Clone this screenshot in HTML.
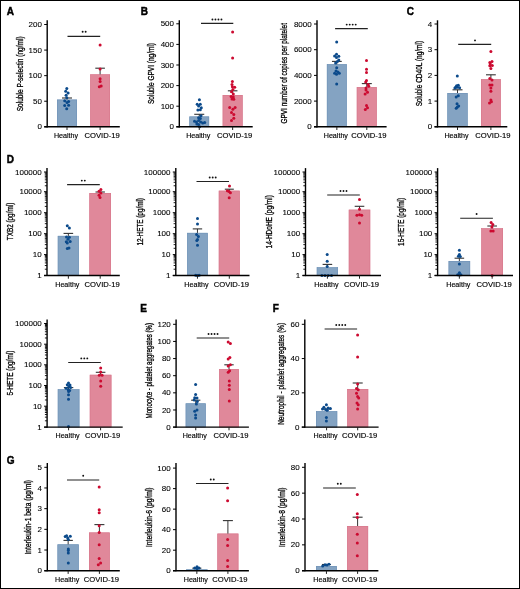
<!DOCTYPE html>
<html><head><meta charset="utf-8"><style>
html,body{margin:0;padding:0;background:#fff;}
body{width:520px;height:589px;overflow:hidden;}
svg{display:block;font-family:"Liberation Sans", sans-serif;will-change:transform;}
</style></head><body>
<svg width="520" height="589" viewBox="0 0 520 589">
<rect x="0" y="0" width="520" height="589" fill="#fff"/>
<rect x="57.00" y="99.60" width="20.00" height="27.20" fill="#84a3c2"/>
<rect x="57.30" y="99.90" width="19.40" height="26.90" fill="none" stroke="#7093b8" stroke-width="0.6"/>
<rect x="90.20" y="74.40" width="19.80" height="52.40" fill="#e0889a"/>
<rect x="90.50" y="74.70" width="19.20" height="52.10" fill="none" stroke="#d8788d" stroke-width="0.6"/>
<line x1="67.00" y1="99.60" x2="67.00" y2="98.00" stroke="#333" stroke-width="1.0"/>
<line x1="62.00" y1="98.00" x2="72.00" y2="98.00" stroke="#333" stroke-width="1.1"/>
<line x1="100.10" y1="74.40" x2="100.10" y2="68.20" stroke="#333" stroke-width="1.0"/>
<line x1="95.30" y1="68.20" x2="104.90" y2="68.20" stroke="#333" stroke-width="1.1"/>
<circle cx="66.80" cy="88.60" r="1.5" fill="#0b4a8b"/>
<circle cx="65.70" cy="91.20" r="1.5" fill="#0b4a8b"/>
<circle cx="68.10" cy="92.90" r="1.5" fill="#0b4a8b"/>
<circle cx="66.10" cy="95.30" r="1.5" fill="#0b4a8b"/>
<circle cx="66.80" cy="97.80" r="1.5" fill="#0b4a8b"/>
<circle cx="64.70" cy="100.80" r="1.5" fill="#0b4a8b"/>
<circle cx="68.60" cy="101.50" r="1.5" fill="#0b4a8b"/>
<circle cx="67.00" cy="102.40" r="1.5" fill="#0b4a8b"/>
<circle cx="64.70" cy="105.50" r="1.5" fill="#0b4a8b"/>
<circle cx="68.60" cy="105.20" r="1.5" fill="#0b4a8b"/>
<circle cx="66.70" cy="108.70" r="1.5" fill="#0b4a8b"/>
<circle cx="100.10" cy="44.90" r="1.5" fill="#cc0a30"/>
<circle cx="100.10" cy="69.10" r="1.5" fill="#cc0a30"/>
<circle cx="100.10" cy="78.80" r="1.5" fill="#cc0a30"/>
<circle cx="100.10" cy="81.50" r="1.5" fill="#cc0a30"/>
<circle cx="99.30" cy="86.80" r="1.5" fill="#cc0a30"/>
<circle cx="101.20" cy="86.10" r="1.5" fill="#cc0a30"/>
<line x1="47.20" y1="20.30" x2="47.20" y2="127.40" stroke="#000" stroke-width="1.4"/>
<line x1="44.20" y1="126.80" x2="119.80" y2="126.80" stroke="#000" stroke-width="1.4"/>
<line x1="44.20" y1="24.50" x2="47.20" y2="24.50" stroke="#000" stroke-width="1.0"/>
<text x="41.90" y="27.10" font-size="7.3" text-anchor="end" fill="#000" stroke="#000" stroke-width="0.08" textLength="13.35" lengthAdjust="spacingAndGlyphs">200</text>
<line x1="44.20" y1="50.08" x2="47.20" y2="50.08" stroke="#000" stroke-width="1.0"/>
<text x="41.90" y="52.68" font-size="7.3" text-anchor="end" fill="#000" stroke="#000" stroke-width="0.08" textLength="13.35" lengthAdjust="spacingAndGlyphs">150</text>
<line x1="44.20" y1="75.65" x2="47.20" y2="75.65" stroke="#000" stroke-width="1.0"/>
<text x="41.90" y="78.25" font-size="7.3" text-anchor="end" fill="#000" stroke="#000" stroke-width="0.08" textLength="13.35" lengthAdjust="spacingAndGlyphs">100</text>
<line x1="44.20" y1="101.22" x2="47.20" y2="101.22" stroke="#000" stroke-width="1.0"/>
<text x="41.90" y="103.82" font-size="7.3" text-anchor="end" fill="#000" stroke="#000" stroke-width="0.08" textLength="8.90" lengthAdjust="spacingAndGlyphs">50</text>
<line x1="44.20" y1="126.80" x2="47.20" y2="126.80" stroke="#000" stroke-width="1.0"/>
<text x="41.90" y="129.40" font-size="7.3" text-anchor="end" fill="#000" stroke="#000" stroke-width="0.08" textLength="4.45" lengthAdjust="spacingAndGlyphs">0</text>
<line x1="67.00" y1="126.80" x2="67.00" y2="130.00" stroke="#222" stroke-width="1.0"/>
<line x1="100.10" y1="126.80" x2="100.10" y2="130.00" stroke="#222" stroke-width="1.0"/>
<text x="66.00" y="138.00" font-size="7.1" text-anchor="middle" font-weight="normal" fill="#000" stroke="#000" stroke-width="0.14" textLength="24.2" lengthAdjust="spacingAndGlyphs">Healthy</text>
<text x="102.10" y="138.00" font-size="7.1" text-anchor="middle" font-weight="normal" fill="#000" stroke="#000" stroke-width="0.14" textLength="35.2" lengthAdjust="spacingAndGlyphs">COVID-19</text>
<line x1="67.50" y1="36.30" x2="100.20" y2="36.30" stroke="#222" stroke-width="1.15"/>
<circle cx="82.65" cy="31.80" r="0.95" fill="#111"/>
<circle cx="85.65" cy="31.80" r="0.95" fill="#111"/>
<text x="0" y="0" font-size="9" text-anchor="middle" fill="#000" stroke="#000" stroke-width="0.3" textLength="75" lengthAdjust="spacingAndGlyphs" transform="translate(23.05,73.80) rotate(-90)">Soluble P-selectin (ng/ml)</text>
<rect x="189.40" y="116.50" width="19.70" height="10.30" fill="#84a3c2"/>
<rect x="189.70" y="116.80" width="19.10" height="10.00" fill="none" stroke="#7093b8" stroke-width="0.6"/>
<rect x="222.70" y="95.00" width="19.90" height="31.80" fill="#e0889a"/>
<rect x="223.00" y="95.30" width="19.30" height="31.50" fill="none" stroke="#d8788d" stroke-width="0.6"/>
<line x1="199.25" y1="116.50" x2="199.25" y2="114.30" stroke="#333" stroke-width="1.0"/>
<line x1="194.25" y1="114.30" x2="204.25" y2="114.30" stroke="#333" stroke-width="1.1"/>
<line x1="232.65" y1="95.00" x2="232.65" y2="90.80" stroke="#333" stroke-width="1.0"/>
<line x1="227.85" y1="90.80" x2="237.45" y2="90.80" stroke="#333" stroke-width="1.1"/>
<circle cx="199.40" cy="99.80" r="1.5" fill="#0b4a8b"/>
<circle cx="197.20" cy="104.30" r="1.5" fill="#0b4a8b"/>
<circle cx="200.30" cy="104.30" r="1.5" fill="#0b4a8b"/>
<circle cx="198.60" cy="106.00" r="1.5" fill="#0b4a8b"/>
<circle cx="201.30" cy="107.80" r="1.5" fill="#0b4a8b"/>
<circle cx="197.90" cy="110.00" r="1.5" fill="#0b4a8b"/>
<circle cx="200.30" cy="109.70" r="1.5" fill="#0b4a8b"/>
<circle cx="201.00" cy="115.70" r="1.5" fill="#0b4a8b"/>
<circle cx="198.60" cy="117.80" r="1.5" fill="#0b4a8b"/>
<circle cx="200.30" cy="118.50" r="1.5" fill="#0b4a8b"/>
<circle cx="194.50" cy="121.20" r="1.5" fill="#0b4a8b"/>
<circle cx="196.50" cy="121.90" r="1.5" fill="#0b4a8b"/>
<circle cx="198.60" cy="120.50" r="1.5" fill="#0b4a8b"/>
<circle cx="200.60" cy="121.90" r="1.5" fill="#0b4a8b"/>
<circle cx="202.70" cy="122.90" r="1.5" fill="#0b4a8b"/>
<circle cx="204.70" cy="122.60" r="1.5" fill="#0b4a8b"/>
<circle cx="198.60" cy="124.60" r="1.5" fill="#0b4a8b"/>
<circle cx="199.60" cy="126.70" r="1.5" fill="#0b4a8b"/>
<circle cx="196.90" cy="123.90" r="1.5" fill="#0b4a8b"/>
<circle cx="232.60" cy="31.90" r="1.5" fill="#cc0a30"/>
<circle cx="232.60" cy="58.00" r="1.5" fill="#cc0a30"/>
<circle cx="232.40" cy="81.50" r="1.5" fill="#cc0a30"/>
<circle cx="232.00" cy="84.50" r="1.5" fill="#cc0a30"/>
<circle cx="234.70" cy="87.20" r="1.5" fill="#cc0a30"/>
<circle cx="232.40" cy="86.70" r="1.5" fill="#cc0a30"/>
<circle cx="232.90" cy="89.40" r="1.5" fill="#cc0a30"/>
<circle cx="231.50" cy="91.70" r="1.5" fill="#cc0a30"/>
<circle cx="233.30" cy="93.90" r="1.5" fill="#cc0a30"/>
<circle cx="231.10" cy="96.60" r="1.5" fill="#cc0a30"/>
<circle cx="233.30" cy="97.10" r="1.5" fill="#cc0a30"/>
<circle cx="232.00" cy="98.90" r="1.5" fill="#cc0a30"/>
<circle cx="233.80" cy="99.30" r="1.5" fill="#cc0a30"/>
<circle cx="229.70" cy="107.40" r="1.5" fill="#cc0a30"/>
<circle cx="235.10" cy="107.40" r="1.5" fill="#cc0a30"/>
<circle cx="232.90" cy="109.20" r="1.5" fill="#cc0a30"/>
<circle cx="231.50" cy="112.40" r="1.5" fill="#cc0a30"/>
<circle cx="233.80" cy="114.60" r="1.5" fill="#cc0a30"/>
<circle cx="233.80" cy="118.20" r="1.5" fill="#cc0a30"/>
<circle cx="231.50" cy="120.50" r="1.5" fill="#cc0a30"/>
<line x1="179.30" y1="20.30" x2="179.30" y2="127.40" stroke="#000" stroke-width="1.4"/>
<line x1="176.30" y1="126.80" x2="252.70" y2="126.80" stroke="#000" stroke-width="1.4"/>
<line x1="176.30" y1="23.80" x2="179.30" y2="23.80" stroke="#000" stroke-width="1.0"/>
<text x="174.00" y="26.40" font-size="7.3" text-anchor="end" fill="#000" stroke="#000" stroke-width="0.08" textLength="13.35" lengthAdjust="spacingAndGlyphs">500</text>
<line x1="176.30" y1="44.40" x2="179.30" y2="44.40" stroke="#000" stroke-width="1.0"/>
<text x="174.00" y="47.00" font-size="7.3" text-anchor="end" fill="#000" stroke="#000" stroke-width="0.08" textLength="13.35" lengthAdjust="spacingAndGlyphs">400</text>
<line x1="176.30" y1="65.00" x2="179.30" y2="65.00" stroke="#000" stroke-width="1.0"/>
<text x="174.00" y="67.60" font-size="7.3" text-anchor="end" fill="#000" stroke="#000" stroke-width="0.08" textLength="13.35" lengthAdjust="spacingAndGlyphs">300</text>
<line x1="176.30" y1="85.60" x2="179.30" y2="85.60" stroke="#000" stroke-width="1.0"/>
<text x="174.00" y="88.20" font-size="7.3" text-anchor="end" fill="#000" stroke="#000" stroke-width="0.08" textLength="13.35" lengthAdjust="spacingAndGlyphs">200</text>
<line x1="176.30" y1="106.20" x2="179.30" y2="106.20" stroke="#000" stroke-width="1.0"/>
<text x="174.00" y="108.80" font-size="7.3" text-anchor="end" fill="#000" stroke="#000" stroke-width="0.08" textLength="13.35" lengthAdjust="spacingAndGlyphs">100</text>
<line x1="176.30" y1="126.80" x2="179.30" y2="126.80" stroke="#000" stroke-width="1.0"/>
<text x="174.00" y="129.40" font-size="7.3" text-anchor="end" fill="#000" stroke="#000" stroke-width="0.08" textLength="4.45" lengthAdjust="spacingAndGlyphs">0</text>
<line x1="199.25" y1="126.80" x2="199.25" y2="130.00" stroke="#222" stroke-width="1.0"/>
<line x1="232.65" y1="126.80" x2="232.65" y2="130.00" stroke="#222" stroke-width="1.0"/>
<text x="198.25" y="138.00" font-size="7.1" text-anchor="middle" font-weight="normal" fill="#000" stroke="#000" stroke-width="0.14" textLength="24.2" lengthAdjust="spacingAndGlyphs">Healthy</text>
<text x="234.65" y="138.00" font-size="7.1" text-anchor="middle" font-weight="normal" fill="#000" stroke="#000" stroke-width="0.14" textLength="35.2" lengthAdjust="spacingAndGlyphs">COVID-19</text>
<line x1="201.00" y1="23.40" x2="233.30" y2="23.40" stroke="#222" stroke-width="1.15"/>
<circle cx="212.45" cy="19.50" r="0.95" fill="#111"/>
<circle cx="215.45" cy="19.50" r="0.95" fill="#111"/>
<circle cx="218.45" cy="19.50" r="0.95" fill="#111"/>
<circle cx="221.45" cy="19.50" r="0.95" fill="#111"/>
<text x="0" y="0" font-size="9" text-anchor="middle" fill="#000" stroke="#000" stroke-width="0.3" textLength="61" lengthAdjust="spacingAndGlyphs" transform="translate(154.20,73.50) rotate(-90)">Soluble GPVI (ng/ml)</text>
<rect x="326.90" y="64.20" width="19.90" height="62.60" fill="#84a3c2"/>
<rect x="327.20" y="64.50" width="19.30" height="62.30" fill="none" stroke="#7093b8" stroke-width="0.6"/>
<rect x="356.80" y="87.10" width="20.00" height="39.70" fill="#e0889a"/>
<rect x="357.10" y="87.40" width="19.40" height="39.40" fill="none" stroke="#d8788d" stroke-width="0.6"/>
<line x1="336.85" y1="64.20" x2="336.85" y2="61.40" stroke="#333" stroke-width="1.0"/>
<line x1="331.95" y1="61.40" x2="341.75" y2="61.40" stroke="#333" stroke-width="1.1"/>
<line x1="366.80" y1="87.10" x2="366.80" y2="83.60" stroke="#333" stroke-width="1.0"/>
<line x1="361.80" y1="83.60" x2="371.80" y2="83.60" stroke="#333" stroke-width="1.1"/>
<circle cx="336.70" cy="42.00" r="1.5" fill="#0b4a8b"/>
<circle cx="336.50" cy="54.20" r="1.5" fill="#0b4a8b"/>
<circle cx="334.60" cy="56.00" r="1.5" fill="#0b4a8b"/>
<circle cx="338.80" cy="56.30" r="1.5" fill="#0b4a8b"/>
<circle cx="336.50" cy="57.40" r="1.5" fill="#0b4a8b"/>
<circle cx="338.80" cy="60.00" r="1.5" fill="#0b4a8b"/>
<circle cx="337.40" cy="61.60" r="1.5" fill="#0b4a8b"/>
<circle cx="335.60" cy="63.00" r="1.5" fill="#0b4a8b"/>
<circle cx="336.70" cy="67.70" r="1.5" fill="#0b4a8b"/>
<circle cx="336.00" cy="71.00" r="1.5" fill="#0b4a8b"/>
<circle cx="337.90" cy="71.90" r="1.5" fill="#0b4a8b"/>
<circle cx="334.60" cy="73.30" r="1.5" fill="#0b4a8b"/>
<circle cx="339.30" cy="73.30" r="1.5" fill="#0b4a8b"/>
<circle cx="336.50" cy="74.30" r="1.5" fill="#0b4a8b"/>
<circle cx="336.70" cy="84.10" r="1.5" fill="#0b4a8b"/>
<circle cx="366.50" cy="60.50" r="1.5" fill="#cc0a30"/>
<circle cx="366.50" cy="69.30" r="1.5" fill="#cc0a30"/>
<circle cx="366.50" cy="72.60" r="1.5" fill="#cc0a30"/>
<circle cx="366.50" cy="80.40" r="1.5" fill="#cc0a30"/>
<circle cx="365.70" cy="82.10" r="1.5" fill="#cc0a30"/>
<circle cx="368.10" cy="84.50" r="1.5" fill="#cc0a30"/>
<circle cx="368.70" cy="86.30" r="1.5" fill="#cc0a30"/>
<circle cx="366.00" cy="87.90" r="1.5" fill="#cc0a30"/>
<circle cx="366.00" cy="89.90" r="1.5" fill="#cc0a30"/>
<circle cx="367.50" cy="92.30" r="1.5" fill="#cc0a30"/>
<circle cx="365.10" cy="94.00" r="1.5" fill="#cc0a30"/>
<circle cx="366.50" cy="105.40" r="1.5" fill="#cc0a30"/>
<circle cx="367.50" cy="107.70" r="1.5" fill="#cc0a30"/>
<circle cx="365.30" cy="109.50" r="1.5" fill="#cc0a30"/>
<line x1="317.00" y1="20.30" x2="317.00" y2="127.40" stroke="#000" stroke-width="1.4"/>
<line x1="314.00" y1="126.80" x2="386.60" y2="126.80" stroke="#000" stroke-width="1.4"/>
<line x1="314.00" y1="24.00" x2="317.00" y2="24.00" stroke="#000" stroke-width="1.0"/>
<text x="311.70" y="26.60" font-size="7.3" text-anchor="end" fill="#000" stroke="#000" stroke-width="0.08" textLength="17.80" lengthAdjust="spacingAndGlyphs">8000</text>
<line x1="314.00" y1="49.70" x2="317.00" y2="49.70" stroke="#000" stroke-width="1.0"/>
<text x="311.70" y="52.30" font-size="7.3" text-anchor="end" fill="#000" stroke="#000" stroke-width="0.08" textLength="17.80" lengthAdjust="spacingAndGlyphs">6000</text>
<line x1="314.00" y1="75.40" x2="317.00" y2="75.40" stroke="#000" stroke-width="1.0"/>
<text x="311.70" y="78.00" font-size="7.3" text-anchor="end" fill="#000" stroke="#000" stroke-width="0.08" textLength="17.80" lengthAdjust="spacingAndGlyphs">4000</text>
<line x1="314.00" y1="101.10" x2="317.00" y2="101.10" stroke="#000" stroke-width="1.0"/>
<text x="311.70" y="103.70" font-size="7.3" text-anchor="end" fill="#000" stroke="#000" stroke-width="0.08" textLength="17.80" lengthAdjust="spacingAndGlyphs">2000</text>
<line x1="314.00" y1="126.80" x2="317.00" y2="126.80" stroke="#000" stroke-width="1.0"/>
<text x="311.70" y="129.40" font-size="7.3" text-anchor="end" fill="#000" stroke="#000" stroke-width="0.08" textLength="4.45" lengthAdjust="spacingAndGlyphs">0</text>
<line x1="336.85" y1="126.80" x2="336.85" y2="130.00" stroke="#222" stroke-width="1.0"/>
<line x1="366.80" y1="126.80" x2="366.80" y2="130.00" stroke="#222" stroke-width="1.0"/>
<text x="335.85" y="138.00" font-size="7.1" text-anchor="middle" font-weight="normal" fill="#000" stroke="#000" stroke-width="0.14" textLength="24.2" lengthAdjust="spacingAndGlyphs">Healthy</text>
<text x="368.80" y="138.00" font-size="7.1" text-anchor="middle" font-weight="normal" fill="#000" stroke="#000" stroke-width="0.14" textLength="35.2" lengthAdjust="spacingAndGlyphs">COVID-19</text>
<line x1="335.10" y1="28.60" x2="367.80" y2="28.60" stroke="#222" stroke-width="1.15"/>
<circle cx="346.70" cy="24.60" r="0.95" fill="#111"/>
<circle cx="349.70" cy="24.60" r="0.95" fill="#111"/>
<circle cx="352.70" cy="24.60" r="0.95" fill="#111"/>
<circle cx="355.70" cy="24.60" r="0.95" fill="#111"/>
<text x="0" y="0" font-size="9" text-anchor="middle" fill="#000" stroke="#000" stroke-width="0.3" textLength="100.5" lengthAdjust="spacingAndGlyphs" transform="translate(287.40,73.30) rotate(-90)">GPVI number of copies per platelet</text>
<rect x="447.40" y="93.00" width="20.20" height="33.80" fill="#84a3c2"/>
<rect x="447.70" y="93.30" width="19.60" height="33.50" fill="none" stroke="#7093b8" stroke-width="0.6"/>
<rect x="481.00" y="79.20" width="19.80" height="47.60" fill="#e0889a"/>
<rect x="481.30" y="79.50" width="19.20" height="47.30" fill="none" stroke="#d8788d" stroke-width="0.6"/>
<line x1="457.50" y1="93.00" x2="457.50" y2="89.80" stroke="#333" stroke-width="1.0"/>
<line x1="452.50" y1="89.80" x2="462.50" y2="89.80" stroke="#333" stroke-width="1.1"/>
<line x1="490.90" y1="79.20" x2="490.90" y2="74.80" stroke="#333" stroke-width="1.0"/>
<line x1="486.00" y1="74.80" x2="495.80" y2="74.80" stroke="#333" stroke-width="1.1"/>
<circle cx="457.30" cy="75.90" r="1.5" fill="#0b4a8b"/>
<circle cx="458.30" cy="85.20" r="1.5" fill="#0b4a8b"/>
<circle cx="456.60" cy="85.80" r="1.5" fill="#0b4a8b"/>
<circle cx="455.70" cy="87.30" r="1.5" fill="#0b4a8b"/>
<circle cx="457.40" cy="87.30" r="1.5" fill="#0b4a8b"/>
<circle cx="459.60" cy="87.80" r="1.5" fill="#0b4a8b"/>
<circle cx="454.90" cy="88.10" r="1.5" fill="#0b4a8b"/>
<circle cx="456.20" cy="96.90" r="1.5" fill="#0b4a8b"/>
<circle cx="458.30" cy="95.80" r="1.5" fill="#0b4a8b"/>
<circle cx="457.00" cy="103.70" r="1.5" fill="#0b4a8b"/>
<circle cx="458.70" cy="106.00" r="1.5" fill="#0b4a8b"/>
<circle cx="457.40" cy="107.10" r="1.5" fill="#0b4a8b"/>
<circle cx="456.20" cy="108.30" r="1.5" fill="#0b4a8b"/>
<circle cx="490.90" cy="51.40" r="1.5" fill="#cc0a30"/>
<circle cx="492.00" cy="61.50" r="1.5" fill="#cc0a30"/>
<circle cx="489.80" cy="62.40" r="1.5" fill="#cc0a30"/>
<circle cx="490.30" cy="64.00" r="1.5" fill="#cc0a30"/>
<circle cx="492.30" cy="65.40" r="1.5" fill="#cc0a30"/>
<circle cx="489.80" cy="65.70" r="1.5" fill="#cc0a30"/>
<circle cx="490.90" cy="68.40" r="1.5" fill="#cc0a30"/>
<circle cx="489.80" cy="78.60" r="1.5" fill="#cc0a30"/>
<circle cx="492.00" cy="80.10" r="1.5" fill="#cc0a30"/>
<circle cx="489.80" cy="84.90" r="1.5" fill="#cc0a30"/>
<circle cx="492.00" cy="84.90" r="1.5" fill="#cc0a30"/>
<circle cx="490.90" cy="88.00" r="1.5" fill="#cc0a30"/>
<circle cx="490.90" cy="91.30" r="1.5" fill="#cc0a30"/>
<circle cx="490.90" cy="100.10" r="1.5" fill="#cc0a30"/>
<circle cx="491.40" cy="101.80" r="1.5" fill="#cc0a30"/>
<circle cx="489.50" cy="102.90" r="1.5" fill="#cc0a30"/>
<line x1="437.50" y1="20.30" x2="437.50" y2="127.40" stroke="#000" stroke-width="1.4"/>
<line x1="434.50" y1="126.80" x2="507.30" y2="126.80" stroke="#000" stroke-width="1.4"/>
<line x1="434.50" y1="24.00" x2="437.50" y2="24.00" stroke="#000" stroke-width="1.0"/>
<text x="432.20" y="26.60" font-size="7.3" text-anchor="end" fill="#000" stroke="#000" stroke-width="0.08" textLength="4.45" lengthAdjust="spacingAndGlyphs">4</text>
<line x1="434.50" y1="49.70" x2="437.50" y2="49.70" stroke="#000" stroke-width="1.0"/>
<text x="432.20" y="52.30" font-size="7.3" text-anchor="end" fill="#000" stroke="#000" stroke-width="0.08" textLength="4.45" lengthAdjust="spacingAndGlyphs">3</text>
<line x1="434.50" y1="75.40" x2="437.50" y2="75.40" stroke="#000" stroke-width="1.0"/>
<text x="432.20" y="78.00" font-size="7.3" text-anchor="end" fill="#000" stroke="#000" stroke-width="0.08" textLength="4.45" lengthAdjust="spacingAndGlyphs">2</text>
<line x1="434.50" y1="101.10" x2="437.50" y2="101.10" stroke="#000" stroke-width="1.0"/>
<text x="432.20" y="103.70" font-size="7.3" text-anchor="end" fill="#000" stroke="#000" stroke-width="0.08" textLength="4.45" lengthAdjust="spacingAndGlyphs">1</text>
<line x1="434.50" y1="126.80" x2="437.50" y2="126.80" stroke="#000" stroke-width="1.0"/>
<text x="432.20" y="129.40" font-size="7.3" text-anchor="end" fill="#000" stroke="#000" stroke-width="0.08" textLength="4.45" lengthAdjust="spacingAndGlyphs">0</text>
<line x1="457.50" y1="126.80" x2="457.50" y2="130.00" stroke="#222" stroke-width="1.0"/>
<line x1="490.90" y1="126.80" x2="490.90" y2="130.00" stroke="#222" stroke-width="1.0"/>
<text x="456.50" y="138.00" font-size="7.1" text-anchor="middle" font-weight="normal" fill="#000" stroke="#000" stroke-width="0.14" textLength="24.2" lengthAdjust="spacingAndGlyphs">Healthy</text>
<text x="492.90" y="138.00" font-size="7.1" text-anchor="middle" font-weight="normal" fill="#000" stroke="#000" stroke-width="0.14" textLength="35.2" lengthAdjust="spacingAndGlyphs">COVID-19</text>
<line x1="458.20" y1="44.30" x2="491.20" y2="44.30" stroke="#222" stroke-width="1.15"/>
<circle cx="475.00" cy="40.40" r="0.95" fill="#111"/>
<text x="0" y="0" font-size="9" text-anchor="middle" fill="#000" stroke="#000" stroke-width="0.3" textLength="65.5" lengthAdjust="spacingAndGlyphs" transform="translate(421.80,73.60) rotate(-90)">Soluble CD40L (ng/ml)</text>
<rect x="57.80" y="235.90" width="21.10" height="39.60" fill="#84a3c2"/>
<rect x="58.10" y="236.20" width="20.50" height="39.30" fill="none" stroke="#7093b8" stroke-width="0.6"/>
<rect x="89.40" y="193.00" width="21.60" height="82.50" fill="#e0889a"/>
<rect x="89.70" y="193.30" width="21.00" height="82.20" fill="none" stroke="#d8788d" stroke-width="0.6"/>
<line x1="68.35" y1="235.90" x2="68.35" y2="233.40" stroke="#333" stroke-width="1.0"/>
<line x1="63.55" y1="233.40" x2="73.15" y2="233.40" stroke="#333" stroke-width="1.1"/>
<line x1="100.20" y1="193.00" x2="100.20" y2="192.00" stroke="#333" stroke-width="1.0"/>
<line x1="95.50" y1="192.00" x2="104.90" y2="192.00" stroke="#333" stroke-width="1.1"/>
<circle cx="67.30" cy="225.80" r="1.5" fill="#0b4a8b"/>
<circle cx="69.40" cy="228.10" r="1.5" fill="#0b4a8b"/>
<circle cx="66.50" cy="237.00" r="1.5" fill="#0b4a8b"/>
<circle cx="69.40" cy="237.30" r="1.5" fill="#0b4a8b"/>
<circle cx="68.00" cy="239.20" r="1.5" fill="#0b4a8b"/>
<circle cx="66.30" cy="241.70" r="1.5" fill="#0b4a8b"/>
<circle cx="70.20" cy="241.40" r="1.5" fill="#0b4a8b"/>
<circle cx="67.30" cy="243.10" r="1.5" fill="#0b4a8b"/>
<circle cx="67.30" cy="248.60" r="1.5" fill="#0b4a8b"/>
<circle cx="69.00" cy="247.90" r="1.5" fill="#0b4a8b"/>
<circle cx="100.90" cy="189.40" r="1.5" fill="#cc0a30"/>
<circle cx="99.00" cy="191.20" r="1.5" fill="#cc0a30"/>
<circle cx="100.90" cy="193.00" r="1.5" fill="#cc0a30"/>
<circle cx="99.00" cy="195.20" r="1.5" fill="#cc0a30"/>
<circle cx="100.00" cy="197.40" r="1.5" fill="#cc0a30"/>
<line x1="47.00" y1="168.10" x2="47.00" y2="276.10" stroke="#000" stroke-width="1.4"/>
<line x1="44.00" y1="275.50" x2="119.80" y2="275.50" stroke="#000" stroke-width="1.4"/>
<line x1="44.00" y1="172.00" x2="47.00" y2="172.00" stroke="#000" stroke-width="1.0"/>
<text x="41.70" y="174.60" font-size="7.3" text-anchor="end" fill="#000" stroke="#000" stroke-width="0.08" textLength="26.70" lengthAdjust="spacingAndGlyphs">100000</text>
<line x1="44.00" y1="191.70" x2="47.00" y2="191.70" stroke="#000" stroke-width="1.0"/>
<text x="41.70" y="194.30" font-size="7.3" text-anchor="end" fill="#000" stroke="#000" stroke-width="0.08" textLength="22.25" lengthAdjust="spacingAndGlyphs">10000</text>
<line x1="44.00" y1="212.70" x2="47.00" y2="212.70" stroke="#000" stroke-width="1.0"/>
<text x="41.70" y="215.30" font-size="7.3" text-anchor="end" fill="#000" stroke="#000" stroke-width="0.08" textLength="17.80" lengthAdjust="spacingAndGlyphs">1000</text>
<line x1="44.00" y1="233.70" x2="47.00" y2="233.70" stroke="#000" stroke-width="1.0"/>
<text x="41.70" y="236.30" font-size="7.3" text-anchor="end" fill="#000" stroke="#000" stroke-width="0.08" textLength="13.35" lengthAdjust="spacingAndGlyphs">100</text>
<line x1="44.00" y1="254.60" x2="47.00" y2="254.60" stroke="#000" stroke-width="1.0"/>
<text x="41.70" y="257.20" font-size="7.3" text-anchor="end" fill="#000" stroke="#000" stroke-width="0.08" textLength="8.90" lengthAdjust="spacingAndGlyphs">10</text>
<line x1="44.00" y1="275.50" x2="47.00" y2="275.50" stroke="#000" stroke-width="1.0"/>
<text x="41.70" y="278.10" font-size="7.3" text-anchor="end" fill="#000" stroke="#000" stroke-width="0.08" textLength="4.45" lengthAdjust="spacingAndGlyphs">1</text>
<line x1="44.80" y1="185.77" x2="47.00" y2="185.77" stroke="#000" stroke-width="0.9"/>
<line x1="44.80" y1="182.30" x2="47.00" y2="182.30" stroke="#000" stroke-width="0.9"/>
<line x1="44.80" y1="179.84" x2="47.00" y2="179.84" stroke="#000" stroke-width="0.9"/>
<line x1="44.80" y1="177.93" x2="47.00" y2="177.93" stroke="#000" stroke-width="0.9"/>
<line x1="44.80" y1="176.37" x2="47.00" y2="176.37" stroke="#000" stroke-width="0.9"/>
<line x1="44.80" y1="175.05" x2="47.00" y2="175.05" stroke="#000" stroke-width="0.9"/>
<line x1="44.80" y1="173.91" x2="47.00" y2="173.91" stroke="#000" stroke-width="0.9"/>
<line x1="44.80" y1="172.90" x2="47.00" y2="172.90" stroke="#000" stroke-width="0.9"/>
<line x1="44.80" y1="206.38" x2="47.00" y2="206.38" stroke="#000" stroke-width="0.9"/>
<line x1="44.80" y1="202.68" x2="47.00" y2="202.68" stroke="#000" stroke-width="0.9"/>
<line x1="44.80" y1="200.06" x2="47.00" y2="200.06" stroke="#000" stroke-width="0.9"/>
<line x1="44.80" y1="198.02" x2="47.00" y2="198.02" stroke="#000" stroke-width="0.9"/>
<line x1="44.80" y1="196.36" x2="47.00" y2="196.36" stroke="#000" stroke-width="0.9"/>
<line x1="44.80" y1="194.95" x2="47.00" y2="194.95" stroke="#000" stroke-width="0.9"/>
<line x1="44.80" y1="193.74" x2="47.00" y2="193.74" stroke="#000" stroke-width="0.9"/>
<line x1="44.80" y1="192.66" x2="47.00" y2="192.66" stroke="#000" stroke-width="0.9"/>
<line x1="44.80" y1="227.38" x2="47.00" y2="227.38" stroke="#000" stroke-width="0.9"/>
<line x1="44.80" y1="223.68" x2="47.00" y2="223.68" stroke="#000" stroke-width="0.9"/>
<line x1="44.80" y1="221.06" x2="47.00" y2="221.06" stroke="#000" stroke-width="0.9"/>
<line x1="44.80" y1="219.02" x2="47.00" y2="219.02" stroke="#000" stroke-width="0.9"/>
<line x1="44.80" y1="217.36" x2="47.00" y2="217.36" stroke="#000" stroke-width="0.9"/>
<line x1="44.80" y1="215.95" x2="47.00" y2="215.95" stroke="#000" stroke-width="0.9"/>
<line x1="44.80" y1="214.74" x2="47.00" y2="214.74" stroke="#000" stroke-width="0.9"/>
<line x1="44.80" y1="213.66" x2="47.00" y2="213.66" stroke="#000" stroke-width="0.9"/>
<line x1="44.80" y1="248.31" x2="47.00" y2="248.31" stroke="#000" stroke-width="0.9"/>
<line x1="44.80" y1="244.63" x2="47.00" y2="244.63" stroke="#000" stroke-width="0.9"/>
<line x1="44.80" y1="242.02" x2="47.00" y2="242.02" stroke="#000" stroke-width="0.9"/>
<line x1="44.80" y1="239.99" x2="47.00" y2="239.99" stroke="#000" stroke-width="0.9"/>
<line x1="44.80" y1="238.34" x2="47.00" y2="238.34" stroke="#000" stroke-width="0.9"/>
<line x1="44.80" y1="236.94" x2="47.00" y2="236.94" stroke="#000" stroke-width="0.9"/>
<line x1="44.80" y1="235.73" x2="47.00" y2="235.73" stroke="#000" stroke-width="0.9"/>
<line x1="44.80" y1="234.66" x2="47.00" y2="234.66" stroke="#000" stroke-width="0.9"/>
<line x1="44.80" y1="269.21" x2="47.00" y2="269.21" stroke="#000" stroke-width="0.9"/>
<line x1="44.80" y1="265.53" x2="47.00" y2="265.53" stroke="#000" stroke-width="0.9"/>
<line x1="44.80" y1="262.92" x2="47.00" y2="262.92" stroke="#000" stroke-width="0.9"/>
<line x1="44.80" y1="260.89" x2="47.00" y2="260.89" stroke="#000" stroke-width="0.9"/>
<line x1="44.80" y1="259.24" x2="47.00" y2="259.24" stroke="#000" stroke-width="0.9"/>
<line x1="44.80" y1="257.84" x2="47.00" y2="257.84" stroke="#000" stroke-width="0.9"/>
<line x1="44.80" y1="256.63" x2="47.00" y2="256.63" stroke="#000" stroke-width="0.9"/>
<line x1="44.80" y1="255.56" x2="47.00" y2="255.56" stroke="#000" stroke-width="0.9"/>
<line x1="68.35" y1="275.50" x2="68.35" y2="278.70" stroke="#222" stroke-width="1.0"/>
<line x1="100.20" y1="275.50" x2="100.20" y2="278.70" stroke="#222" stroke-width="1.0"/>
<text x="67.35" y="286.70" font-size="7.1" text-anchor="middle" font-weight="normal" fill="#000" stroke="#000" stroke-width="0.14" textLength="24.2" lengthAdjust="spacingAndGlyphs">Healthy</text>
<text x="102.20" y="286.70" font-size="7.1" text-anchor="middle" font-weight="normal" fill="#000" stroke="#000" stroke-width="0.14" textLength="35.2" lengthAdjust="spacingAndGlyphs">COVID-19</text>
<line x1="67.10" y1="184.60" x2="99.80" y2="184.60" stroke="#222" stroke-width="1.15"/>
<circle cx="81.80" cy="180.60" r="0.95" fill="#111"/>
<circle cx="84.80" cy="180.60" r="0.95" fill="#111"/>
<text x="0" y="0" font-size="9" text-anchor="middle" fill="#000" stroke="#000" stroke-width="0.3" textLength="37.5" lengthAdjust="spacingAndGlyphs" transform="translate(12.80,221.50) rotate(-90)">TXB2 (pg/ml)</text>
<rect x="187.10" y="232.90" width="20.70" height="42.60" fill="#84a3c2"/>
<rect x="187.40" y="233.20" width="20.10" height="42.30" fill="none" stroke="#7093b8" stroke-width="0.6"/>
<rect x="218.80" y="190.70" width="21.00" height="84.80" fill="#e0889a"/>
<rect x="219.10" y="191.00" width="20.40" height="84.50" fill="none" stroke="#d8788d" stroke-width="0.6"/>
<line x1="197.45" y1="232.90" x2="197.45" y2="228.90" stroke="#333" stroke-width="1.0"/>
<line x1="192.75" y1="228.90" x2="202.15" y2="228.90" stroke="#333" stroke-width="1.1"/>
<line x1="229.30" y1="190.70" x2="229.30" y2="189.20" stroke="#333" stroke-width="1.0"/>
<line x1="224.80" y1="189.20" x2="233.80" y2="189.20" stroke="#333" stroke-width="1.1"/>
<circle cx="197.50" cy="218.60" r="1.5" fill="#0b4a8b"/>
<circle cx="197.50" cy="224.00" r="1.5" fill="#0b4a8b"/>
<circle cx="196.60" cy="234.60" r="1.5" fill="#0b4a8b"/>
<circle cx="198.40" cy="236.40" r="1.5" fill="#0b4a8b"/>
<circle cx="197.50" cy="239.40" r="1.5" fill="#0b4a8b"/>
<circle cx="196.80" cy="240.50" r="1.5" fill="#0b4a8b"/>
<circle cx="197.50" cy="245.30" r="1.5" fill="#0b4a8b"/>
<circle cx="195.70" cy="275.20" r="1.5" fill="#0b4a8b"/>
<circle cx="197.50" cy="275.60" r="1.5" fill="#0b4a8b"/>
<circle cx="199.20" cy="275.20" r="1.5" fill="#0b4a8b"/>
<circle cx="229.50" cy="186.00" r="1.5" fill="#cc0a30"/>
<circle cx="227.40" cy="190.70" r="1.5" fill="#cc0a30"/>
<circle cx="230.40" cy="192.80" r="1.5" fill="#cc0a30"/>
<circle cx="229.00" cy="191.50" r="1.5" fill="#cc0a30"/>
<circle cx="229.20" cy="197.80" r="1.5" fill="#cc0a30"/>
<line x1="175.80" y1="168.10" x2="175.80" y2="276.10" stroke="#000" stroke-width="1.4"/>
<line x1="172.80" y1="275.50" x2="249.50" y2="275.50" stroke="#000" stroke-width="1.4"/>
<line x1="172.80" y1="172.00" x2="175.80" y2="172.00" stroke="#000" stroke-width="1.0"/>
<text x="170.50" y="174.60" font-size="7.3" text-anchor="end" fill="#000" stroke="#000" stroke-width="0.08" textLength="26.70" lengthAdjust="spacingAndGlyphs">100000</text>
<line x1="172.80" y1="191.70" x2="175.80" y2="191.70" stroke="#000" stroke-width="1.0"/>
<text x="170.50" y="194.30" font-size="7.3" text-anchor="end" fill="#000" stroke="#000" stroke-width="0.08" textLength="22.25" lengthAdjust="spacingAndGlyphs">10000</text>
<line x1="172.80" y1="212.70" x2="175.80" y2="212.70" stroke="#000" stroke-width="1.0"/>
<text x="170.50" y="215.30" font-size="7.3" text-anchor="end" fill="#000" stroke="#000" stroke-width="0.08" textLength="17.80" lengthAdjust="spacingAndGlyphs">1000</text>
<line x1="172.80" y1="233.70" x2="175.80" y2="233.70" stroke="#000" stroke-width="1.0"/>
<text x="170.50" y="236.30" font-size="7.3" text-anchor="end" fill="#000" stroke="#000" stroke-width="0.08" textLength="13.35" lengthAdjust="spacingAndGlyphs">100</text>
<line x1="172.80" y1="254.60" x2="175.80" y2="254.60" stroke="#000" stroke-width="1.0"/>
<text x="170.50" y="257.20" font-size="7.3" text-anchor="end" fill="#000" stroke="#000" stroke-width="0.08" textLength="8.90" lengthAdjust="spacingAndGlyphs">10</text>
<line x1="172.80" y1="275.50" x2="175.80" y2="275.50" stroke="#000" stroke-width="1.0"/>
<text x="170.50" y="278.10" font-size="7.3" text-anchor="end" fill="#000" stroke="#000" stroke-width="0.08" textLength="4.45" lengthAdjust="spacingAndGlyphs">1</text>
<line x1="173.60" y1="185.77" x2="175.80" y2="185.77" stroke="#000" stroke-width="0.9"/>
<line x1="173.60" y1="182.30" x2="175.80" y2="182.30" stroke="#000" stroke-width="0.9"/>
<line x1="173.60" y1="179.84" x2="175.80" y2="179.84" stroke="#000" stroke-width="0.9"/>
<line x1="173.60" y1="177.93" x2="175.80" y2="177.93" stroke="#000" stroke-width="0.9"/>
<line x1="173.60" y1="176.37" x2="175.80" y2="176.37" stroke="#000" stroke-width="0.9"/>
<line x1="173.60" y1="175.05" x2="175.80" y2="175.05" stroke="#000" stroke-width="0.9"/>
<line x1="173.60" y1="173.91" x2="175.80" y2="173.91" stroke="#000" stroke-width="0.9"/>
<line x1="173.60" y1="172.90" x2="175.80" y2="172.90" stroke="#000" stroke-width="0.9"/>
<line x1="173.60" y1="206.38" x2="175.80" y2="206.38" stroke="#000" stroke-width="0.9"/>
<line x1="173.60" y1="202.68" x2="175.80" y2="202.68" stroke="#000" stroke-width="0.9"/>
<line x1="173.60" y1="200.06" x2="175.80" y2="200.06" stroke="#000" stroke-width="0.9"/>
<line x1="173.60" y1="198.02" x2="175.80" y2="198.02" stroke="#000" stroke-width="0.9"/>
<line x1="173.60" y1="196.36" x2="175.80" y2="196.36" stroke="#000" stroke-width="0.9"/>
<line x1="173.60" y1="194.95" x2="175.80" y2="194.95" stroke="#000" stroke-width="0.9"/>
<line x1="173.60" y1="193.74" x2="175.80" y2="193.74" stroke="#000" stroke-width="0.9"/>
<line x1="173.60" y1="192.66" x2="175.80" y2="192.66" stroke="#000" stroke-width="0.9"/>
<line x1="173.60" y1="227.38" x2="175.80" y2="227.38" stroke="#000" stroke-width="0.9"/>
<line x1="173.60" y1="223.68" x2="175.80" y2="223.68" stroke="#000" stroke-width="0.9"/>
<line x1="173.60" y1="221.06" x2="175.80" y2="221.06" stroke="#000" stroke-width="0.9"/>
<line x1="173.60" y1="219.02" x2="175.80" y2="219.02" stroke="#000" stroke-width="0.9"/>
<line x1="173.60" y1="217.36" x2="175.80" y2="217.36" stroke="#000" stroke-width="0.9"/>
<line x1="173.60" y1="215.95" x2="175.80" y2="215.95" stroke="#000" stroke-width="0.9"/>
<line x1="173.60" y1="214.74" x2="175.80" y2="214.74" stroke="#000" stroke-width="0.9"/>
<line x1="173.60" y1="213.66" x2="175.80" y2="213.66" stroke="#000" stroke-width="0.9"/>
<line x1="173.60" y1="248.31" x2="175.80" y2="248.31" stroke="#000" stroke-width="0.9"/>
<line x1="173.60" y1="244.63" x2="175.80" y2="244.63" stroke="#000" stroke-width="0.9"/>
<line x1="173.60" y1="242.02" x2="175.80" y2="242.02" stroke="#000" stroke-width="0.9"/>
<line x1="173.60" y1="239.99" x2="175.80" y2="239.99" stroke="#000" stroke-width="0.9"/>
<line x1="173.60" y1="238.34" x2="175.80" y2="238.34" stroke="#000" stroke-width="0.9"/>
<line x1="173.60" y1="236.94" x2="175.80" y2="236.94" stroke="#000" stroke-width="0.9"/>
<line x1="173.60" y1="235.73" x2="175.80" y2="235.73" stroke="#000" stroke-width="0.9"/>
<line x1="173.60" y1="234.66" x2="175.80" y2="234.66" stroke="#000" stroke-width="0.9"/>
<line x1="173.60" y1="269.21" x2="175.80" y2="269.21" stroke="#000" stroke-width="0.9"/>
<line x1="173.60" y1="265.53" x2="175.80" y2="265.53" stroke="#000" stroke-width="0.9"/>
<line x1="173.60" y1="262.92" x2="175.80" y2="262.92" stroke="#000" stroke-width="0.9"/>
<line x1="173.60" y1="260.89" x2="175.80" y2="260.89" stroke="#000" stroke-width="0.9"/>
<line x1="173.60" y1="259.24" x2="175.80" y2="259.24" stroke="#000" stroke-width="0.9"/>
<line x1="173.60" y1="257.84" x2="175.80" y2="257.84" stroke="#000" stroke-width="0.9"/>
<line x1="173.60" y1="256.63" x2="175.80" y2="256.63" stroke="#000" stroke-width="0.9"/>
<line x1="173.60" y1="255.56" x2="175.80" y2="255.56" stroke="#000" stroke-width="0.9"/>
<line x1="197.45" y1="275.50" x2="197.45" y2="278.70" stroke="#222" stroke-width="1.0"/>
<line x1="229.30" y1="275.50" x2="229.30" y2="278.70" stroke="#222" stroke-width="1.0"/>
<text x="196.45" y="286.70" font-size="7.1" text-anchor="middle" font-weight="normal" fill="#000" stroke="#000" stroke-width="0.14" textLength="24.2" lengthAdjust="spacingAndGlyphs">Healthy</text>
<text x="231.30" y="286.70" font-size="7.1" text-anchor="middle" font-weight="normal" fill="#000" stroke="#000" stroke-width="0.14" textLength="35.2" lengthAdjust="spacingAndGlyphs">COVID-19</text>
<line x1="196.50" y1="181.50" x2="229.00" y2="181.50" stroke="#222" stroke-width="1.15"/>
<circle cx="209.70" cy="177.50" r="0.95" fill="#111"/>
<circle cx="212.70" cy="177.50" r="0.95" fill="#111"/>
<circle cx="215.70" cy="177.50" r="0.95" fill="#111"/>
<text x="0" y="0" font-size="9" text-anchor="middle" fill="#000" stroke="#000" stroke-width="0.3" textLength="47.5" lengthAdjust="spacingAndGlyphs" transform="translate(142.60,221.80) rotate(-90)">12-HETE (pg/ml)</text>
<rect x="316.80" y="267.30" width="21.20" height="8.20" fill="#84a3c2"/>
<rect x="317.10" y="267.60" width="20.60" height="7.90" fill="none" stroke="#7093b8" stroke-width="0.6"/>
<rect x="348.80" y="209.70" width="21.40" height="65.80" fill="#e0889a"/>
<rect x="349.10" y="210.00" width="20.80" height="65.50" fill="none" stroke="#d8788d" stroke-width="0.6"/>
<line x1="327.40" y1="267.30" x2="327.40" y2="264.40" stroke="#333" stroke-width="1.0"/>
<line x1="322.60" y1="264.40" x2="332.20" y2="264.40" stroke="#333" stroke-width="1.1"/>
<line x1="359.50" y1="209.70" x2="359.50" y2="206.30" stroke="#333" stroke-width="1.0"/>
<line x1="354.70" y1="206.30" x2="364.30" y2="206.30" stroke="#333" stroke-width="1.1"/>
<circle cx="327.20" cy="254.40" r="1.5" fill="#0b4a8b"/>
<circle cx="327.20" cy="261.30" r="1.5" fill="#0b4a8b"/>
<circle cx="327.20" cy="266.50" r="1.5" fill="#0b4a8b"/>
<circle cx="321.90" cy="275.60" r="1.5" fill="#0b4a8b"/>
<circle cx="325.00" cy="275.60" r="1.5" fill="#0b4a8b"/>
<circle cx="328.20" cy="275.60" r="1.5" fill="#0b4a8b"/>
<circle cx="331.50" cy="275.60" r="1.5" fill="#0b4a8b"/>
<circle cx="359.50" cy="199.50" r="1.5" fill="#cc0a30"/>
<circle cx="359.50" cy="209.20" r="1.5" fill="#cc0a30"/>
<circle cx="356.90" cy="215.30" r="1.5" fill="#cc0a30"/>
<circle cx="359.50" cy="214.80" r="1.5" fill="#cc0a30"/>
<circle cx="361.70" cy="215.30" r="1.5" fill="#cc0a30"/>
<circle cx="359.50" cy="222.90" r="1.5" fill="#cc0a30"/>
<line x1="305.50" y1="168.10" x2="305.50" y2="276.10" stroke="#000" stroke-width="1.4"/>
<line x1="302.50" y1="275.50" x2="381.00" y2="275.50" stroke="#000" stroke-width="1.4"/>
<line x1="302.50" y1="172.00" x2="305.50" y2="172.00" stroke="#000" stroke-width="1.0"/>
<text x="300.20" y="174.60" font-size="7.3" text-anchor="end" fill="#000" stroke="#000" stroke-width="0.08" textLength="26.70" lengthAdjust="spacingAndGlyphs">100000</text>
<line x1="302.50" y1="191.70" x2="305.50" y2="191.70" stroke="#000" stroke-width="1.0"/>
<text x="300.20" y="194.30" font-size="7.3" text-anchor="end" fill="#000" stroke="#000" stroke-width="0.08" textLength="22.25" lengthAdjust="spacingAndGlyphs">10000</text>
<line x1="302.50" y1="212.70" x2="305.50" y2="212.70" stroke="#000" stroke-width="1.0"/>
<text x="300.20" y="215.30" font-size="7.3" text-anchor="end" fill="#000" stroke="#000" stroke-width="0.08" textLength="17.80" lengthAdjust="spacingAndGlyphs">1000</text>
<line x1="302.50" y1="233.70" x2="305.50" y2="233.70" stroke="#000" stroke-width="1.0"/>
<text x="300.20" y="236.30" font-size="7.3" text-anchor="end" fill="#000" stroke="#000" stroke-width="0.08" textLength="13.35" lengthAdjust="spacingAndGlyphs">100</text>
<line x1="302.50" y1="254.60" x2="305.50" y2="254.60" stroke="#000" stroke-width="1.0"/>
<text x="300.20" y="257.20" font-size="7.3" text-anchor="end" fill="#000" stroke="#000" stroke-width="0.08" textLength="8.90" lengthAdjust="spacingAndGlyphs">10</text>
<line x1="302.50" y1="275.50" x2="305.50" y2="275.50" stroke="#000" stroke-width="1.0"/>
<text x="300.20" y="278.10" font-size="7.3" text-anchor="end" fill="#000" stroke="#000" stroke-width="0.08" textLength="4.45" lengthAdjust="spacingAndGlyphs">1</text>
<line x1="303.30" y1="185.77" x2="305.50" y2="185.77" stroke="#000" stroke-width="0.9"/>
<line x1="303.30" y1="182.30" x2="305.50" y2="182.30" stroke="#000" stroke-width="0.9"/>
<line x1="303.30" y1="179.84" x2="305.50" y2="179.84" stroke="#000" stroke-width="0.9"/>
<line x1="303.30" y1="177.93" x2="305.50" y2="177.93" stroke="#000" stroke-width="0.9"/>
<line x1="303.30" y1="176.37" x2="305.50" y2="176.37" stroke="#000" stroke-width="0.9"/>
<line x1="303.30" y1="175.05" x2="305.50" y2="175.05" stroke="#000" stroke-width="0.9"/>
<line x1="303.30" y1="173.91" x2="305.50" y2="173.91" stroke="#000" stroke-width="0.9"/>
<line x1="303.30" y1="172.90" x2="305.50" y2="172.90" stroke="#000" stroke-width="0.9"/>
<line x1="303.30" y1="206.38" x2="305.50" y2="206.38" stroke="#000" stroke-width="0.9"/>
<line x1="303.30" y1="202.68" x2="305.50" y2="202.68" stroke="#000" stroke-width="0.9"/>
<line x1="303.30" y1="200.06" x2="305.50" y2="200.06" stroke="#000" stroke-width="0.9"/>
<line x1="303.30" y1="198.02" x2="305.50" y2="198.02" stroke="#000" stroke-width="0.9"/>
<line x1="303.30" y1="196.36" x2="305.50" y2="196.36" stroke="#000" stroke-width="0.9"/>
<line x1="303.30" y1="194.95" x2="305.50" y2="194.95" stroke="#000" stroke-width="0.9"/>
<line x1="303.30" y1="193.74" x2="305.50" y2="193.74" stroke="#000" stroke-width="0.9"/>
<line x1="303.30" y1="192.66" x2="305.50" y2="192.66" stroke="#000" stroke-width="0.9"/>
<line x1="303.30" y1="227.38" x2="305.50" y2="227.38" stroke="#000" stroke-width="0.9"/>
<line x1="303.30" y1="223.68" x2="305.50" y2="223.68" stroke="#000" stroke-width="0.9"/>
<line x1="303.30" y1="221.06" x2="305.50" y2="221.06" stroke="#000" stroke-width="0.9"/>
<line x1="303.30" y1="219.02" x2="305.50" y2="219.02" stroke="#000" stroke-width="0.9"/>
<line x1="303.30" y1="217.36" x2="305.50" y2="217.36" stroke="#000" stroke-width="0.9"/>
<line x1="303.30" y1="215.95" x2="305.50" y2="215.95" stroke="#000" stroke-width="0.9"/>
<line x1="303.30" y1="214.74" x2="305.50" y2="214.74" stroke="#000" stroke-width="0.9"/>
<line x1="303.30" y1="213.66" x2="305.50" y2="213.66" stroke="#000" stroke-width="0.9"/>
<line x1="303.30" y1="248.31" x2="305.50" y2="248.31" stroke="#000" stroke-width="0.9"/>
<line x1="303.30" y1="244.63" x2="305.50" y2="244.63" stroke="#000" stroke-width="0.9"/>
<line x1="303.30" y1="242.02" x2="305.50" y2="242.02" stroke="#000" stroke-width="0.9"/>
<line x1="303.30" y1="239.99" x2="305.50" y2="239.99" stroke="#000" stroke-width="0.9"/>
<line x1="303.30" y1="238.34" x2="305.50" y2="238.34" stroke="#000" stroke-width="0.9"/>
<line x1="303.30" y1="236.94" x2="305.50" y2="236.94" stroke="#000" stroke-width="0.9"/>
<line x1="303.30" y1="235.73" x2="305.50" y2="235.73" stroke="#000" stroke-width="0.9"/>
<line x1="303.30" y1="234.66" x2="305.50" y2="234.66" stroke="#000" stroke-width="0.9"/>
<line x1="303.30" y1="269.21" x2="305.50" y2="269.21" stroke="#000" stroke-width="0.9"/>
<line x1="303.30" y1="265.53" x2="305.50" y2="265.53" stroke="#000" stroke-width="0.9"/>
<line x1="303.30" y1="262.92" x2="305.50" y2="262.92" stroke="#000" stroke-width="0.9"/>
<line x1="303.30" y1="260.89" x2="305.50" y2="260.89" stroke="#000" stroke-width="0.9"/>
<line x1="303.30" y1="259.24" x2="305.50" y2="259.24" stroke="#000" stroke-width="0.9"/>
<line x1="303.30" y1="257.84" x2="305.50" y2="257.84" stroke="#000" stroke-width="0.9"/>
<line x1="303.30" y1="256.63" x2="305.50" y2="256.63" stroke="#000" stroke-width="0.9"/>
<line x1="303.30" y1="255.56" x2="305.50" y2="255.56" stroke="#000" stroke-width="0.9"/>
<line x1="327.40" y1="275.50" x2="327.40" y2="278.70" stroke="#222" stroke-width="1.0"/>
<line x1="359.50" y1="275.50" x2="359.50" y2="278.70" stroke="#222" stroke-width="1.0"/>
<text x="326.40" y="286.70" font-size="7.1" text-anchor="middle" font-weight="normal" fill="#000" stroke="#000" stroke-width="0.14" textLength="24.2" lengthAdjust="spacingAndGlyphs">Healthy</text>
<text x="361.50" y="286.70" font-size="7.1" text-anchor="middle" font-weight="normal" fill="#000" stroke="#000" stroke-width="0.14" textLength="35.2" lengthAdjust="spacingAndGlyphs">COVID-19</text>
<line x1="327.20" y1="195.00" x2="359.80" y2="195.00" stroke="#222" stroke-width="1.15"/>
<circle cx="340.50" cy="191.00" r="0.95" fill="#111"/>
<circle cx="343.50" cy="191.00" r="0.95" fill="#111"/>
<circle cx="346.50" cy="191.00" r="0.95" fill="#111"/>
<text x="0" y="0" font-size="9" text-anchor="middle" fill="#000" stroke="#000" stroke-width="0.3" textLength="53.2" lengthAdjust="spacingAndGlyphs" transform="translate(272.20,221.80) rotate(-90)">14-HDoHE (pg/ml)</text>
<rect x="448.60" y="261.00" width="21.50" height="14.50" fill="#84a3c2"/>
<rect x="448.90" y="261.30" width="20.90" height="14.20" fill="none" stroke="#7093b8" stroke-width="0.6"/>
<rect x="481.30" y="228.30" width="21.70" height="47.20" fill="#e0889a"/>
<rect x="481.60" y="228.60" width="21.10" height="46.90" fill="none" stroke="#d8788d" stroke-width="0.6"/>
<line x1="459.35" y1="261.00" x2="459.35" y2="258.20" stroke="#333" stroke-width="1.0"/>
<line x1="454.55" y1="258.20" x2="464.15" y2="258.20" stroke="#333" stroke-width="1.1"/>
<line x1="492.15" y1="228.30" x2="492.15" y2="226.00" stroke="#333" stroke-width="1.0"/>
<line x1="487.35" y1="226.00" x2="496.95" y2="226.00" stroke="#333" stroke-width="1.1"/>
<circle cx="459.40" cy="250.20" r="1.5" fill="#0b4a8b"/>
<circle cx="459.40" cy="254.40" r="1.5" fill="#0b4a8b"/>
<circle cx="458.40" cy="256.20" r="1.5" fill="#0b4a8b"/>
<circle cx="460.30" cy="256.60" r="1.5" fill="#0b4a8b"/>
<circle cx="459.40" cy="263.90" r="1.5" fill="#0b4a8b"/>
<circle cx="459.40" cy="272.80" r="1.5" fill="#0b4a8b"/>
<circle cx="457.70" cy="274.80" r="1.5" fill="#0b4a8b"/>
<circle cx="459.40" cy="275.10" r="1.5" fill="#0b4a8b"/>
<circle cx="460.90" cy="274.80" r="1.5" fill="#0b4a8b"/>
<circle cx="491.10" cy="222.60" r="1.5" fill="#cc0a30"/>
<circle cx="492.80" cy="224.40" r="1.5" fill="#cc0a30"/>
<circle cx="491.90" cy="226.90" r="1.5" fill="#cc0a30"/>
<circle cx="490.90" cy="231.10" r="1.5" fill="#cc0a30"/>
<circle cx="493.20" cy="231.10" r="1.5" fill="#cc0a30"/>
<circle cx="492.10" cy="275.40" r="1.5" fill="#cc0a30"/>
<line x1="437.60" y1="168.10" x2="437.60" y2="276.10" stroke="#000" stroke-width="1.4"/>
<line x1="434.60" y1="275.50" x2="513.00" y2="275.50" stroke="#000" stroke-width="1.4"/>
<line x1="434.60" y1="172.00" x2="437.60" y2="172.00" stroke="#000" stroke-width="1.0"/>
<text x="432.30" y="174.60" font-size="7.3" text-anchor="end" fill="#000" stroke="#000" stroke-width="0.08" textLength="26.70" lengthAdjust="spacingAndGlyphs">100000</text>
<line x1="434.60" y1="191.70" x2="437.60" y2="191.70" stroke="#000" stroke-width="1.0"/>
<text x="432.30" y="194.30" font-size="7.3" text-anchor="end" fill="#000" stroke="#000" stroke-width="0.08" textLength="22.25" lengthAdjust="spacingAndGlyphs">10000</text>
<line x1="434.60" y1="212.70" x2="437.60" y2="212.70" stroke="#000" stroke-width="1.0"/>
<text x="432.30" y="215.30" font-size="7.3" text-anchor="end" fill="#000" stroke="#000" stroke-width="0.08" textLength="17.80" lengthAdjust="spacingAndGlyphs">1000</text>
<line x1="434.60" y1="233.70" x2="437.60" y2="233.70" stroke="#000" stroke-width="1.0"/>
<text x="432.30" y="236.30" font-size="7.3" text-anchor="end" fill="#000" stroke="#000" stroke-width="0.08" textLength="13.35" lengthAdjust="spacingAndGlyphs">100</text>
<line x1="434.60" y1="254.60" x2="437.60" y2="254.60" stroke="#000" stroke-width="1.0"/>
<text x="432.30" y="257.20" font-size="7.3" text-anchor="end" fill="#000" stroke="#000" stroke-width="0.08" textLength="8.90" lengthAdjust="spacingAndGlyphs">10</text>
<line x1="434.60" y1="275.50" x2="437.60" y2="275.50" stroke="#000" stroke-width="1.0"/>
<text x="432.30" y="278.10" font-size="7.3" text-anchor="end" fill="#000" stroke="#000" stroke-width="0.08" textLength="4.45" lengthAdjust="spacingAndGlyphs">1</text>
<line x1="435.40" y1="185.77" x2="437.60" y2="185.77" stroke="#000" stroke-width="0.9"/>
<line x1="435.40" y1="182.30" x2="437.60" y2="182.30" stroke="#000" stroke-width="0.9"/>
<line x1="435.40" y1="179.84" x2="437.60" y2="179.84" stroke="#000" stroke-width="0.9"/>
<line x1="435.40" y1="177.93" x2="437.60" y2="177.93" stroke="#000" stroke-width="0.9"/>
<line x1="435.40" y1="176.37" x2="437.60" y2="176.37" stroke="#000" stroke-width="0.9"/>
<line x1="435.40" y1="175.05" x2="437.60" y2="175.05" stroke="#000" stroke-width="0.9"/>
<line x1="435.40" y1="173.91" x2="437.60" y2="173.91" stroke="#000" stroke-width="0.9"/>
<line x1="435.40" y1="172.90" x2="437.60" y2="172.90" stroke="#000" stroke-width="0.9"/>
<line x1="435.40" y1="206.38" x2="437.60" y2="206.38" stroke="#000" stroke-width="0.9"/>
<line x1="435.40" y1="202.68" x2="437.60" y2="202.68" stroke="#000" stroke-width="0.9"/>
<line x1="435.40" y1="200.06" x2="437.60" y2="200.06" stroke="#000" stroke-width="0.9"/>
<line x1="435.40" y1="198.02" x2="437.60" y2="198.02" stroke="#000" stroke-width="0.9"/>
<line x1="435.40" y1="196.36" x2="437.60" y2="196.36" stroke="#000" stroke-width="0.9"/>
<line x1="435.40" y1="194.95" x2="437.60" y2="194.95" stroke="#000" stroke-width="0.9"/>
<line x1="435.40" y1="193.74" x2="437.60" y2="193.74" stroke="#000" stroke-width="0.9"/>
<line x1="435.40" y1="192.66" x2="437.60" y2="192.66" stroke="#000" stroke-width="0.9"/>
<line x1="435.40" y1="227.38" x2="437.60" y2="227.38" stroke="#000" stroke-width="0.9"/>
<line x1="435.40" y1="223.68" x2="437.60" y2="223.68" stroke="#000" stroke-width="0.9"/>
<line x1="435.40" y1="221.06" x2="437.60" y2="221.06" stroke="#000" stroke-width="0.9"/>
<line x1="435.40" y1="219.02" x2="437.60" y2="219.02" stroke="#000" stroke-width="0.9"/>
<line x1="435.40" y1="217.36" x2="437.60" y2="217.36" stroke="#000" stroke-width="0.9"/>
<line x1="435.40" y1="215.95" x2="437.60" y2="215.95" stroke="#000" stroke-width="0.9"/>
<line x1="435.40" y1="214.74" x2="437.60" y2="214.74" stroke="#000" stroke-width="0.9"/>
<line x1="435.40" y1="213.66" x2="437.60" y2="213.66" stroke="#000" stroke-width="0.9"/>
<line x1="435.40" y1="248.31" x2="437.60" y2="248.31" stroke="#000" stroke-width="0.9"/>
<line x1="435.40" y1="244.63" x2="437.60" y2="244.63" stroke="#000" stroke-width="0.9"/>
<line x1="435.40" y1="242.02" x2="437.60" y2="242.02" stroke="#000" stroke-width="0.9"/>
<line x1="435.40" y1="239.99" x2="437.60" y2="239.99" stroke="#000" stroke-width="0.9"/>
<line x1="435.40" y1="238.34" x2="437.60" y2="238.34" stroke="#000" stroke-width="0.9"/>
<line x1="435.40" y1="236.94" x2="437.60" y2="236.94" stroke="#000" stroke-width="0.9"/>
<line x1="435.40" y1="235.73" x2="437.60" y2="235.73" stroke="#000" stroke-width="0.9"/>
<line x1="435.40" y1="234.66" x2="437.60" y2="234.66" stroke="#000" stroke-width="0.9"/>
<line x1="435.40" y1="269.21" x2="437.60" y2="269.21" stroke="#000" stroke-width="0.9"/>
<line x1="435.40" y1="265.53" x2="437.60" y2="265.53" stroke="#000" stroke-width="0.9"/>
<line x1="435.40" y1="262.92" x2="437.60" y2="262.92" stroke="#000" stroke-width="0.9"/>
<line x1="435.40" y1="260.89" x2="437.60" y2="260.89" stroke="#000" stroke-width="0.9"/>
<line x1="435.40" y1="259.24" x2="437.60" y2="259.24" stroke="#000" stroke-width="0.9"/>
<line x1="435.40" y1="257.84" x2="437.60" y2="257.84" stroke="#000" stroke-width="0.9"/>
<line x1="435.40" y1="256.63" x2="437.60" y2="256.63" stroke="#000" stroke-width="0.9"/>
<line x1="435.40" y1="255.56" x2="437.60" y2="255.56" stroke="#000" stroke-width="0.9"/>
<line x1="459.35" y1="275.50" x2="459.35" y2="278.70" stroke="#222" stroke-width="1.0"/>
<line x1="492.15" y1="275.50" x2="492.15" y2="278.70" stroke="#222" stroke-width="1.0"/>
<text x="458.35" y="286.70" font-size="7.1" text-anchor="middle" font-weight="normal" fill="#000" stroke="#000" stroke-width="0.14" textLength="24.2" lengthAdjust="spacingAndGlyphs">Healthy</text>
<text x="494.15" y="286.70" font-size="7.1" text-anchor="middle" font-weight="normal" fill="#000" stroke="#000" stroke-width="0.14" textLength="35.2" lengthAdjust="spacingAndGlyphs">COVID-19</text>
<line x1="460.20" y1="218.20" x2="492.90" y2="218.20" stroke="#222" stroke-width="1.15"/>
<circle cx="476.60" cy="214.00" r="0.95" fill="#111"/>
<text x="0" y="0" font-size="9" text-anchor="middle" fill="#000" stroke="#000" stroke-width="0.3" textLength="48" lengthAdjust="spacingAndGlyphs" transform="translate(403.80,221.90) rotate(-90)">15-HETE (pg/ml)</text>
<rect x="57.80" y="389.30" width="21.60" height="37.80" fill="#84a3c2"/>
<rect x="58.10" y="389.60" width="21.00" height="37.50" fill="none" stroke="#7093b8" stroke-width="0.6"/>
<rect x="89.80" y="374.80" width="21.60" height="52.30" fill="#e0889a"/>
<rect x="90.10" y="375.10" width="21.00" height="52.00" fill="none" stroke="#d8788d" stroke-width="0.6"/>
<line x1="68.60" y1="389.30" x2="68.60" y2="387.60" stroke="#333" stroke-width="1.0"/>
<line x1="63.90" y1="387.60" x2="73.30" y2="387.60" stroke="#333" stroke-width="1.1"/>
<line x1="100.60" y1="374.80" x2="100.60" y2="372.30" stroke="#333" stroke-width="1.0"/>
<line x1="95.80" y1="372.30" x2="105.40" y2="372.30" stroke="#333" stroke-width="1.1"/>
<circle cx="68.50" cy="383.10" r="1.5" fill="#0b4a8b"/>
<circle cx="67.30" cy="384.80" r="1.5" fill="#0b4a8b"/>
<circle cx="70.00" cy="385.10" r="1.5" fill="#0b4a8b"/>
<circle cx="68.90" cy="386.50" r="1.5" fill="#0b4a8b"/>
<circle cx="66.10" cy="388.30" r="1.5" fill="#0b4a8b"/>
<circle cx="70.60" cy="387.60" r="1.5" fill="#0b4a8b"/>
<circle cx="68.20" cy="389.70" r="1.5" fill="#0b4a8b"/>
<circle cx="69.60" cy="390.40" r="1.5" fill="#0b4a8b"/>
<circle cx="68.60" cy="391.50" r="1.5" fill="#0b4a8b"/>
<circle cx="68.50" cy="394.80" r="1.5" fill="#0b4a8b"/>
<circle cx="68.50" cy="399.20" r="1.5" fill="#0b4a8b"/>
<circle cx="68.50" cy="426.60" r="1.5" fill="#0b4a8b"/>
<circle cx="100.70" cy="368.10" r="1.5" fill="#cc0a30"/>
<circle cx="100.70" cy="372.00" r="1.5" fill="#cc0a30"/>
<circle cx="99.30" cy="375.30" r="1.5" fill="#cc0a30"/>
<circle cx="102.10" cy="375.30" r="1.5" fill="#cc0a30"/>
<circle cx="100.70" cy="380.90" r="1.5" fill="#cc0a30"/>
<circle cx="100.70" cy="386.20" r="1.5" fill="#cc0a30"/>
<line x1="47.10" y1="319.50" x2="47.10" y2="427.70" stroke="#000" stroke-width="1.4"/>
<line x1="44.10" y1="427.10" x2="122.70" y2="427.10" stroke="#000" stroke-width="1.4"/>
<line x1="44.10" y1="323.50" x2="47.10" y2="323.50" stroke="#000" stroke-width="1.0"/>
<text x="41.80" y="326.10" font-size="7.3" text-anchor="end" fill="#000" stroke="#000" stroke-width="0.08" textLength="26.70" lengthAdjust="spacingAndGlyphs">100000</text>
<line x1="44.10" y1="344.20" x2="47.10" y2="344.20" stroke="#000" stroke-width="1.0"/>
<text x="41.80" y="346.80" font-size="7.3" text-anchor="end" fill="#000" stroke="#000" stroke-width="0.08" textLength="22.25" lengthAdjust="spacingAndGlyphs">10000</text>
<line x1="44.10" y1="364.80" x2="47.10" y2="364.80" stroke="#000" stroke-width="1.0"/>
<text x="41.80" y="367.40" font-size="7.3" text-anchor="end" fill="#000" stroke="#000" stroke-width="0.08" textLength="17.80" lengthAdjust="spacingAndGlyphs">1000</text>
<line x1="44.10" y1="385.50" x2="47.10" y2="385.50" stroke="#000" stroke-width="1.0"/>
<text x="41.80" y="388.10" font-size="7.3" text-anchor="end" fill="#000" stroke="#000" stroke-width="0.08" textLength="13.35" lengthAdjust="spacingAndGlyphs">100</text>
<line x1="44.10" y1="406.20" x2="47.10" y2="406.20" stroke="#000" stroke-width="1.0"/>
<text x="41.80" y="408.80" font-size="7.3" text-anchor="end" fill="#000" stroke="#000" stroke-width="0.08" textLength="8.90" lengthAdjust="spacingAndGlyphs">10</text>
<line x1="44.10" y1="427.10" x2="47.10" y2="427.10" stroke="#000" stroke-width="1.0"/>
<text x="41.80" y="429.70" font-size="7.3" text-anchor="end" fill="#000" stroke="#000" stroke-width="0.08" textLength="4.45" lengthAdjust="spacingAndGlyphs">1</text>
<line x1="44.90" y1="337.97" x2="47.10" y2="337.97" stroke="#000" stroke-width="0.9"/>
<line x1="44.90" y1="334.32" x2="47.10" y2="334.32" stroke="#000" stroke-width="0.9"/>
<line x1="44.90" y1="331.74" x2="47.10" y2="331.74" stroke="#000" stroke-width="0.9"/>
<line x1="44.90" y1="329.73" x2="47.10" y2="329.73" stroke="#000" stroke-width="0.9"/>
<line x1="44.90" y1="328.09" x2="47.10" y2="328.09" stroke="#000" stroke-width="0.9"/>
<line x1="44.90" y1="326.71" x2="47.10" y2="326.71" stroke="#000" stroke-width="0.9"/>
<line x1="44.90" y1="325.51" x2="47.10" y2="325.51" stroke="#000" stroke-width="0.9"/>
<line x1="44.90" y1="324.45" x2="47.10" y2="324.45" stroke="#000" stroke-width="0.9"/>
<line x1="44.90" y1="358.60" x2="47.10" y2="358.60" stroke="#000" stroke-width="0.9"/>
<line x1="44.90" y1="354.97" x2="47.10" y2="354.97" stroke="#000" stroke-width="0.9"/>
<line x1="44.90" y1="352.40" x2="47.10" y2="352.40" stroke="#000" stroke-width="0.9"/>
<line x1="44.90" y1="350.40" x2="47.10" y2="350.40" stroke="#000" stroke-width="0.9"/>
<line x1="44.90" y1="348.77" x2="47.10" y2="348.77" stroke="#000" stroke-width="0.9"/>
<line x1="44.90" y1="347.39" x2="47.10" y2="347.39" stroke="#000" stroke-width="0.9"/>
<line x1="44.90" y1="346.20" x2="47.10" y2="346.20" stroke="#000" stroke-width="0.9"/>
<line x1="44.90" y1="345.14" x2="47.10" y2="345.14" stroke="#000" stroke-width="0.9"/>
<line x1="44.90" y1="379.27" x2="47.10" y2="379.27" stroke="#000" stroke-width="0.9"/>
<line x1="44.90" y1="375.62" x2="47.10" y2="375.62" stroke="#000" stroke-width="0.9"/>
<line x1="44.90" y1="373.04" x2="47.10" y2="373.04" stroke="#000" stroke-width="0.9"/>
<line x1="44.90" y1="371.03" x2="47.10" y2="371.03" stroke="#000" stroke-width="0.9"/>
<line x1="44.90" y1="369.39" x2="47.10" y2="369.39" stroke="#000" stroke-width="0.9"/>
<line x1="44.90" y1="368.01" x2="47.10" y2="368.01" stroke="#000" stroke-width="0.9"/>
<line x1="44.90" y1="366.81" x2="47.10" y2="366.81" stroke="#000" stroke-width="0.9"/>
<line x1="44.90" y1="365.75" x2="47.10" y2="365.75" stroke="#000" stroke-width="0.9"/>
<line x1="44.90" y1="399.97" x2="47.10" y2="399.97" stroke="#000" stroke-width="0.9"/>
<line x1="44.90" y1="396.32" x2="47.10" y2="396.32" stroke="#000" stroke-width="0.9"/>
<line x1="44.90" y1="393.74" x2="47.10" y2="393.74" stroke="#000" stroke-width="0.9"/>
<line x1="44.90" y1="391.73" x2="47.10" y2="391.73" stroke="#000" stroke-width="0.9"/>
<line x1="44.90" y1="390.09" x2="47.10" y2="390.09" stroke="#000" stroke-width="0.9"/>
<line x1="44.90" y1="388.71" x2="47.10" y2="388.71" stroke="#000" stroke-width="0.9"/>
<line x1="44.90" y1="387.51" x2="47.10" y2="387.51" stroke="#000" stroke-width="0.9"/>
<line x1="44.90" y1="386.45" x2="47.10" y2="386.45" stroke="#000" stroke-width="0.9"/>
<line x1="44.90" y1="420.81" x2="47.10" y2="420.81" stroke="#000" stroke-width="0.9"/>
<line x1="44.90" y1="417.13" x2="47.10" y2="417.13" stroke="#000" stroke-width="0.9"/>
<line x1="44.90" y1="414.52" x2="47.10" y2="414.52" stroke="#000" stroke-width="0.9"/>
<line x1="44.90" y1="412.49" x2="47.10" y2="412.49" stroke="#000" stroke-width="0.9"/>
<line x1="44.90" y1="410.84" x2="47.10" y2="410.84" stroke="#000" stroke-width="0.9"/>
<line x1="44.90" y1="409.44" x2="47.10" y2="409.44" stroke="#000" stroke-width="0.9"/>
<line x1="44.90" y1="408.23" x2="47.10" y2="408.23" stroke="#000" stroke-width="0.9"/>
<line x1="44.90" y1="407.16" x2="47.10" y2="407.16" stroke="#000" stroke-width="0.9"/>
<line x1="68.60" y1="427.10" x2="68.60" y2="430.30" stroke="#222" stroke-width="1.0"/>
<line x1="100.60" y1="427.10" x2="100.60" y2="430.30" stroke="#222" stroke-width="1.0"/>
<text x="67.60" y="438.30" font-size="7.1" text-anchor="middle" font-weight="normal" fill="#000" stroke="#000" stroke-width="0.14" textLength="24.2" lengthAdjust="spacingAndGlyphs">Healthy</text>
<text x="102.60" y="438.30" font-size="7.1" text-anchor="middle" font-weight="normal" fill="#000" stroke="#000" stroke-width="0.14" textLength="35.2" lengthAdjust="spacingAndGlyphs">COVID-19</text>
<line x1="68.20" y1="362.50" x2="100.80" y2="362.50" stroke="#222" stroke-width="1.15"/>
<circle cx="81.30" cy="358.40" r="0.95" fill="#111"/>
<circle cx="84.30" cy="358.40" r="0.95" fill="#111"/>
<circle cx="87.30" cy="358.40" r="0.95" fill="#111"/>
<text x="0" y="0" font-size="9" text-anchor="middle" fill="#000" stroke="#000" stroke-width="0.3" textLength="45" lengthAdjust="spacingAndGlyphs" transform="translate(13.00,373.00) rotate(-90)">5-HETE (pg/ml)</text>
<rect x="185.70" y="403.40" width="20.10" height="23.70" fill="#84a3c2"/>
<rect x="186.00" y="403.70" width="19.50" height="23.40" fill="none" stroke="#7093b8" stroke-width="0.6"/>
<rect x="219.10" y="369.10" width="19.80" height="58.00" fill="#e0889a"/>
<rect x="219.40" y="369.40" width="19.20" height="57.70" fill="none" stroke="#d8788d" stroke-width="0.6"/>
<line x1="195.75" y1="403.40" x2="195.75" y2="400.20" stroke="#333" stroke-width="1.0"/>
<line x1="191.15" y1="400.20" x2="200.35" y2="400.20" stroke="#333" stroke-width="1.1"/>
<line x1="229.00" y1="369.10" x2="229.00" y2="364.80" stroke="#333" stroke-width="1.0"/>
<line x1="224.30" y1="364.80" x2="233.70" y2="364.80" stroke="#333" stroke-width="1.1"/>
<circle cx="195.60" cy="384.40" r="1.5" fill="#0b4a8b"/>
<circle cx="195.60" cy="394.60" r="1.5" fill="#0b4a8b"/>
<circle cx="194.70" cy="397.70" r="1.5" fill="#0b4a8b"/>
<circle cx="197.00" cy="398.00" r="1.5" fill="#0b4a8b"/>
<circle cx="194.20" cy="400.00" r="1.5" fill="#0b4a8b"/>
<circle cx="197.30" cy="401.40" r="1.5" fill="#0b4a8b"/>
<circle cx="196.40" cy="403.90" r="1.5" fill="#0b4a8b"/>
<circle cx="197.00" cy="409.90" r="1.5" fill="#0b4a8b"/>
<circle cx="194.70" cy="411.30" r="1.5" fill="#0b4a8b"/>
<circle cx="195.60" cy="415.00" r="1.5" fill="#0b4a8b"/>
<circle cx="195.60" cy="418.00" r="1.5" fill="#0b4a8b"/>
<circle cx="228.20" cy="341.90" r="1.5" fill="#cc0a30"/>
<circle cx="230.40" cy="343.60" r="1.5" fill="#cc0a30"/>
<circle cx="229.90" cy="357.50" r="1.5" fill="#cc0a30"/>
<circle cx="228.20" cy="358.90" r="1.5" fill="#cc0a30"/>
<circle cx="230.40" cy="364.80" r="1.5" fill="#cc0a30"/>
<circle cx="228.20" cy="366.00" r="1.5" fill="#cc0a30"/>
<circle cx="229.60" cy="370.80" r="1.5" fill="#cc0a30"/>
<circle cx="228.20" cy="372.20" r="1.5" fill="#cc0a30"/>
<circle cx="229.30" cy="381.00" r="1.5" fill="#cc0a30"/>
<circle cx="229.30" cy="385.20" r="1.5" fill="#cc0a30"/>
<circle cx="229.30" cy="389.50" r="1.5" fill="#cc0a30"/>
<circle cx="229.30" cy="401.10" r="1.5" fill="#cc0a30"/>
<line x1="176.10" y1="319.50" x2="176.10" y2="427.70" stroke="#000" stroke-width="1.4"/>
<line x1="173.10" y1="427.10" x2="248.90" y2="427.10" stroke="#000" stroke-width="1.4"/>
<line x1="173.10" y1="324.30" x2="176.10" y2="324.30" stroke="#000" stroke-width="1.0"/>
<text x="170.80" y="326.90" font-size="7.3" text-anchor="end" fill="#000" stroke="#000" stroke-width="0.08" textLength="13.35" lengthAdjust="spacingAndGlyphs">120</text>
<line x1="173.10" y1="341.43" x2="176.10" y2="341.43" stroke="#000" stroke-width="1.0"/>
<text x="170.80" y="344.03" font-size="7.3" text-anchor="end" fill="#000" stroke="#000" stroke-width="0.08" textLength="13.35" lengthAdjust="spacingAndGlyphs">100</text>
<line x1="173.10" y1="358.57" x2="176.10" y2="358.57" stroke="#000" stroke-width="1.0"/>
<text x="170.80" y="361.17" font-size="7.3" text-anchor="end" fill="#000" stroke="#000" stroke-width="0.08" textLength="8.90" lengthAdjust="spacingAndGlyphs">80</text>
<line x1="173.10" y1="375.70" x2="176.10" y2="375.70" stroke="#000" stroke-width="1.0"/>
<text x="170.80" y="378.30" font-size="7.3" text-anchor="end" fill="#000" stroke="#000" stroke-width="0.08" textLength="8.90" lengthAdjust="spacingAndGlyphs">60</text>
<line x1="173.10" y1="392.83" x2="176.10" y2="392.83" stroke="#000" stroke-width="1.0"/>
<text x="170.80" y="395.43" font-size="7.3" text-anchor="end" fill="#000" stroke="#000" stroke-width="0.08" textLength="8.90" lengthAdjust="spacingAndGlyphs">40</text>
<line x1="173.10" y1="409.97" x2="176.10" y2="409.97" stroke="#000" stroke-width="1.0"/>
<text x="170.80" y="412.57" font-size="7.3" text-anchor="end" fill="#000" stroke="#000" stroke-width="0.08" textLength="8.90" lengthAdjust="spacingAndGlyphs">20</text>
<line x1="173.10" y1="427.10" x2="176.10" y2="427.10" stroke="#000" stroke-width="1.0"/>
<text x="170.80" y="429.70" font-size="7.3" text-anchor="end" fill="#000" stroke="#000" stroke-width="0.08" textLength="4.45" lengthAdjust="spacingAndGlyphs">0</text>
<line x1="195.75" y1="427.10" x2="195.75" y2="430.30" stroke="#222" stroke-width="1.0"/>
<line x1="229.00" y1="427.10" x2="229.00" y2="430.30" stroke="#222" stroke-width="1.0"/>
<text x="194.75" y="438.30" font-size="7.1" text-anchor="middle" font-weight="normal" fill="#000" stroke="#000" stroke-width="0.14" textLength="24.2" lengthAdjust="spacingAndGlyphs">Healthy</text>
<text x="231.00" y="438.30" font-size="7.1" text-anchor="middle" font-weight="normal" fill="#000" stroke="#000" stroke-width="0.14" textLength="35.2" lengthAdjust="spacingAndGlyphs">COVID-19</text>
<line x1="196.70" y1="338.00" x2="229.20" y2="338.00" stroke="#222" stroke-width="1.15"/>
<circle cx="208.55" cy="334.00" r="0.95" fill="#111"/>
<circle cx="211.55" cy="334.00" r="0.95" fill="#111"/>
<circle cx="214.55" cy="334.00" r="0.95" fill="#111"/>
<circle cx="217.55" cy="334.00" r="0.95" fill="#111"/>
<text x="0" y="0" font-size="9" text-anchor="middle" fill="#000" stroke="#000" stroke-width="0.3" textLength="95.5" lengthAdjust="spacingAndGlyphs" transform="translate(152.00,370.70) rotate(-90)">Monocyte - platelet aggregates (%)</text>
<rect x="316.00" y="411.20" width="21.20" height="15.90" fill="#84a3c2"/>
<rect x="316.30" y="411.50" width="20.60" height="15.60" fill="none" stroke="#7093b8" stroke-width="0.6"/>
<rect x="347.20" y="389.00" width="21.00" height="38.10" fill="#e0889a"/>
<rect x="347.50" y="389.30" width="20.40" height="37.80" fill="none" stroke="#d8788d" stroke-width="0.6"/>
<line x1="326.60" y1="411.20" x2="326.60" y2="409.00" stroke="#333" stroke-width="1.0"/>
<line x1="322.00" y1="409.00" x2="331.20" y2="409.00" stroke="#333" stroke-width="1.1"/>
<line x1="357.70" y1="389.00" x2="357.70" y2="383.00" stroke="#333" stroke-width="1.0"/>
<line x1="352.70" y1="383.00" x2="362.70" y2="383.00" stroke="#333" stroke-width="1.1"/>
<circle cx="326.40" cy="404.80" r="1.5" fill="#0b4a8b"/>
<circle cx="323.90" cy="407.30" r="1.5" fill="#0b4a8b"/>
<circle cx="328.10" cy="407.90" r="1.5" fill="#0b4a8b"/>
<circle cx="330.40" cy="408.50" r="1.5" fill="#0b4a8b"/>
<circle cx="322.50" cy="409.00" r="1.5" fill="#0b4a8b"/>
<circle cx="325.60" cy="409.60" r="1.5" fill="#0b4a8b"/>
<circle cx="327.20" cy="410.20" r="1.5" fill="#0b4a8b"/>
<circle cx="326.40" cy="417.50" r="1.5" fill="#0b4a8b"/>
<circle cx="326.40" cy="420.90" r="1.5" fill="#0b4a8b"/>
<circle cx="357.60" cy="335.10" r="1.5" fill="#cc0a30"/>
<circle cx="357.60" cy="356.90" r="1.5" fill="#cc0a30"/>
<circle cx="357.60" cy="384.10" r="1.5" fill="#cc0a30"/>
<circle cx="356.50" cy="388.60" r="1.5" fill="#cc0a30"/>
<circle cx="358.20" cy="389.80" r="1.5" fill="#cc0a30"/>
<circle cx="356.50" cy="393.20" r="1.5" fill="#cc0a30"/>
<circle cx="357.60" cy="396.60" r="1.5" fill="#cc0a30"/>
<circle cx="358.70" cy="398.00" r="1.5" fill="#cc0a30"/>
<circle cx="357.00" cy="403.10" r="1.5" fill="#cc0a30"/>
<circle cx="358.20" cy="404.80" r="1.5" fill="#cc0a30"/>
<circle cx="357.60" cy="409.00" r="1.5" fill="#cc0a30"/>
<line x1="304.80" y1="319.50" x2="304.80" y2="427.70" stroke="#000" stroke-width="1.4"/>
<line x1="301.80" y1="427.10" x2="378.60" y2="427.10" stroke="#000" stroke-width="1.4"/>
<line x1="301.80" y1="324.30" x2="304.80" y2="324.30" stroke="#000" stroke-width="1.0"/>
<text x="299.50" y="326.90" font-size="7.3" text-anchor="end" fill="#000" stroke="#000" stroke-width="0.08" textLength="8.90" lengthAdjust="spacingAndGlyphs">60</text>
<line x1="301.80" y1="358.57" x2="304.80" y2="358.57" stroke="#000" stroke-width="1.0"/>
<text x="299.50" y="361.17" font-size="7.3" text-anchor="end" fill="#000" stroke="#000" stroke-width="0.08" textLength="8.90" lengthAdjust="spacingAndGlyphs">40</text>
<line x1="301.80" y1="392.83" x2="304.80" y2="392.83" stroke="#000" stroke-width="1.0"/>
<text x="299.50" y="395.43" font-size="7.3" text-anchor="end" fill="#000" stroke="#000" stroke-width="0.08" textLength="8.90" lengthAdjust="spacingAndGlyphs">20</text>
<line x1="301.80" y1="427.10" x2="304.80" y2="427.10" stroke="#000" stroke-width="1.0"/>
<text x="299.50" y="429.70" font-size="7.3" text-anchor="end" fill="#000" stroke="#000" stroke-width="0.08" textLength="4.45" lengthAdjust="spacingAndGlyphs">0</text>
<line x1="326.60" y1="427.10" x2="326.60" y2="430.30" stroke="#222" stroke-width="1.0"/>
<line x1="357.70" y1="427.10" x2="357.70" y2="430.30" stroke="#222" stroke-width="1.0"/>
<text x="325.60" y="438.30" font-size="7.1" text-anchor="middle" font-weight="normal" fill="#000" stroke="#000" stroke-width="0.14" textLength="24.2" lengthAdjust="spacingAndGlyphs">Healthy</text>
<text x="359.70" y="438.30" font-size="7.1" text-anchor="middle" font-weight="normal" fill="#000" stroke="#000" stroke-width="0.14" textLength="35.2" lengthAdjust="spacingAndGlyphs">COVID-19</text>
<line x1="324.60" y1="329.00" x2="357.10" y2="329.00" stroke="#222" stroke-width="1.15"/>
<circle cx="336.25" cy="325.00" r="0.95" fill="#111"/>
<circle cx="339.25" cy="325.00" r="0.95" fill="#111"/>
<circle cx="342.25" cy="325.00" r="0.95" fill="#111"/>
<circle cx="345.25" cy="325.00" r="0.95" fill="#111"/>
<text x="0" y="0" font-size="9" text-anchor="middle" fill="#000" stroke="#000" stroke-width="0.3" textLength="102" lengthAdjust="spacingAndGlyphs" transform="translate(283.90,373.80) rotate(-90)">Neutrophil - platelet aggregates (%)</text>
<rect x="57.50" y="544.40" width="21.30" height="26.30" fill="#84a3c2"/>
<rect x="57.80" y="544.70" width="20.70" height="26.00" fill="none" stroke="#7093b8" stroke-width="0.6"/>
<rect x="89.00" y="532.50" width="20.80" height="38.20" fill="#e0889a"/>
<rect x="89.30" y="532.80" width="20.20" height="37.90" fill="none" stroke="#d8788d" stroke-width="0.6"/>
<line x1="68.15" y1="544.40" x2="68.15" y2="540.40" stroke="#333" stroke-width="1.0"/>
<line x1="63.45" y1="540.40" x2="72.85" y2="540.40" stroke="#333" stroke-width="1.1"/>
<line x1="99.40" y1="532.50" x2="99.40" y2="524.60" stroke="#333" stroke-width="1.0"/>
<line x1="94.40" y1="524.60" x2="104.40" y2="524.60" stroke="#333" stroke-width="1.1"/>
<circle cx="65.20" cy="536.50" r="1.5" fill="#0b4a8b"/>
<circle cx="67.70" cy="537.90" r="1.5" fill="#0b4a8b"/>
<circle cx="70.30" cy="536.20" r="1.5" fill="#0b4a8b"/>
<circle cx="66.60" cy="535.80" r="1.5" fill="#0b4a8b"/>
<circle cx="68.30" cy="539.60" r="1.5" fill="#0b4a8b"/>
<circle cx="68.30" cy="548.90" r="1.5" fill="#0b4a8b"/>
<circle cx="68.30" cy="550.60" r="1.5" fill="#0b4a8b"/>
<circle cx="68.30" cy="552.90" r="1.5" fill="#0b4a8b"/>
<circle cx="68.30" cy="563.00" r="1.5" fill="#0b4a8b"/>
<circle cx="99.20" cy="486.90" r="1.5" fill="#cc0a30"/>
<circle cx="99.20" cy="509.80" r="1.5" fill="#cc0a30"/>
<circle cx="99.20" cy="512.70" r="1.5" fill="#cc0a30"/>
<circle cx="99.20" cy="525.70" r="1.5" fill="#cc0a30"/>
<circle cx="99.20" cy="532.50" r="1.5" fill="#cc0a30"/>
<circle cx="99.20" cy="544.70" r="1.5" fill="#cc0a30"/>
<circle cx="99.20" cy="558.60" r="1.5" fill="#cc0a30"/>
<circle cx="100.60" cy="563.00" r="1.5" fill="#cc0a30"/>
<circle cx="98.30" cy="564.70" r="1.5" fill="#cc0a30"/>
<line x1="47.30" y1="463.00" x2="47.30" y2="571.30" stroke="#000" stroke-width="1.4"/>
<line x1="44.30" y1="570.70" x2="119.80" y2="570.70" stroke="#000" stroke-width="1.4"/>
<line x1="44.30" y1="467.30" x2="47.30" y2="467.30" stroke="#000" stroke-width="1.0"/>
<text x="42.00" y="469.90" font-size="7.3" text-anchor="end" fill="#000" stroke="#000" stroke-width="0.08" textLength="4.45" lengthAdjust="spacingAndGlyphs">5</text>
<line x1="44.30" y1="487.98" x2="47.30" y2="487.98" stroke="#000" stroke-width="1.0"/>
<text x="42.00" y="490.58" font-size="7.3" text-anchor="end" fill="#000" stroke="#000" stroke-width="0.08" textLength="4.45" lengthAdjust="spacingAndGlyphs">4</text>
<line x1="44.30" y1="508.66" x2="47.30" y2="508.66" stroke="#000" stroke-width="1.0"/>
<text x="42.00" y="511.26" font-size="7.3" text-anchor="end" fill="#000" stroke="#000" stroke-width="0.08" textLength="4.45" lengthAdjust="spacingAndGlyphs">3</text>
<line x1="44.30" y1="529.34" x2="47.30" y2="529.34" stroke="#000" stroke-width="1.0"/>
<text x="42.00" y="531.94" font-size="7.3" text-anchor="end" fill="#000" stroke="#000" stroke-width="0.08" textLength="4.45" lengthAdjust="spacingAndGlyphs">2</text>
<line x1="44.30" y1="550.02" x2="47.30" y2="550.02" stroke="#000" stroke-width="1.0"/>
<text x="42.00" y="552.62" font-size="7.3" text-anchor="end" fill="#000" stroke="#000" stroke-width="0.08" textLength="4.45" lengthAdjust="spacingAndGlyphs">1</text>
<line x1="44.30" y1="570.70" x2="47.30" y2="570.70" stroke="#000" stroke-width="1.0"/>
<text x="42.00" y="573.30" font-size="7.3" text-anchor="end" fill="#000" stroke="#000" stroke-width="0.08" textLength="4.45" lengthAdjust="spacingAndGlyphs">0</text>
<line x1="68.15" y1="570.70" x2="68.15" y2="573.90" stroke="#222" stroke-width="1.0"/>
<line x1="99.40" y1="570.70" x2="99.40" y2="573.90" stroke="#222" stroke-width="1.0"/>
<text x="67.15" y="581.90" font-size="7.1" text-anchor="middle" font-weight="normal" fill="#000" stroke="#000" stroke-width="0.14" textLength="24.2" lengthAdjust="spacingAndGlyphs">Healthy</text>
<text x="101.40" y="581.90" font-size="7.1" text-anchor="middle" font-weight="normal" fill="#000" stroke="#000" stroke-width="0.14" textLength="35.2" lengthAdjust="spacingAndGlyphs">COVID-19</text>
<line x1="67.00" y1="480.00" x2="99.20" y2="480.00" stroke="#222" stroke-width="1.15"/>
<circle cx="83.20" cy="475.80" r="0.95" fill="#111"/>
<text x="0" y="0" font-size="9" text-anchor="middle" fill="#000" stroke="#000" stroke-width="0.3" textLength="74.6" lengthAdjust="spacingAndGlyphs" transform="translate(31.30,517.20) rotate(-90)">Interleukin-1 beta (pg/ml)</text>
<rect x="186.20" y="569.40" width="21.30" height="1.30" fill="#84a3c2"/>
<rect x="186.50" y="569.70" width="20.70" height="1.00" fill="none" stroke="#7093b8" stroke-width="0.6"/>
<rect x="217.40" y="533.60" width="21.00" height="37.10" fill="#e0889a"/>
<rect x="217.70" y="533.90" width="20.40" height="36.80" fill="none" stroke="#d8788d" stroke-width="0.6"/>
<line x1="196.85" y1="569.40" x2="196.85" y2="568.20" stroke="#333" stroke-width="1.0"/>
<line x1="192.35" y1="568.20" x2="201.35" y2="568.20" stroke="#333" stroke-width="1.1"/>
<line x1="227.90" y1="533.60" x2="227.90" y2="520.60" stroke="#333" stroke-width="1.0"/>
<line x1="222.90" y1="520.60" x2="232.90" y2="520.60" stroke="#333" stroke-width="1.1"/>
<circle cx="194.70" cy="568.10" r="1.5" fill="#0b4a8b"/>
<circle cx="197.00" cy="566.80" r="1.5" fill="#0b4a8b"/>
<circle cx="199.00" cy="568.10" r="1.5" fill="#0b4a8b"/>
<circle cx="197.00" cy="568.80" r="1.5" fill="#0b4a8b"/>
<circle cx="227.60" cy="488.10" r="1.5" fill="#cc0a30"/>
<circle cx="227.60" cy="500.80" r="1.5" fill="#cc0a30"/>
<circle cx="227.60" cy="539.60" r="1.5" fill="#cc0a30"/>
<circle cx="227.60" cy="545.50" r="1.5" fill="#cc0a30"/>
<circle cx="227.60" cy="560.50" r="1.5" fill="#cc0a30"/>
<circle cx="227.60" cy="566.50" r="1.5" fill="#cc0a30"/>
<line x1="176.00" y1="463.00" x2="176.00" y2="571.30" stroke="#000" stroke-width="1.4"/>
<line x1="173.00" y1="570.70" x2="248.90" y2="570.70" stroke="#000" stroke-width="1.4"/>
<line x1="173.00" y1="468.10" x2="176.00" y2="468.10" stroke="#000" stroke-width="1.0"/>
<text x="170.70" y="470.70" font-size="7.3" text-anchor="end" fill="#000" stroke="#000" stroke-width="0.08" textLength="13.35" lengthAdjust="spacingAndGlyphs">100</text>
<line x1="173.00" y1="488.62" x2="176.00" y2="488.62" stroke="#000" stroke-width="1.0"/>
<text x="170.70" y="491.22" font-size="7.3" text-anchor="end" fill="#000" stroke="#000" stroke-width="0.08" textLength="8.90" lengthAdjust="spacingAndGlyphs">80</text>
<line x1="173.00" y1="509.14" x2="176.00" y2="509.14" stroke="#000" stroke-width="1.0"/>
<text x="170.70" y="511.74" font-size="7.3" text-anchor="end" fill="#000" stroke="#000" stroke-width="0.08" textLength="8.90" lengthAdjust="spacingAndGlyphs">60</text>
<line x1="173.00" y1="529.66" x2="176.00" y2="529.66" stroke="#000" stroke-width="1.0"/>
<text x="170.70" y="532.26" font-size="7.3" text-anchor="end" fill="#000" stroke="#000" stroke-width="0.08" textLength="8.90" lengthAdjust="spacingAndGlyphs">40</text>
<line x1="173.00" y1="550.18" x2="176.00" y2="550.18" stroke="#000" stroke-width="1.0"/>
<text x="170.70" y="552.78" font-size="7.3" text-anchor="end" fill="#000" stroke="#000" stroke-width="0.08" textLength="8.90" lengthAdjust="spacingAndGlyphs">20</text>
<line x1="173.00" y1="570.70" x2="176.00" y2="570.70" stroke="#000" stroke-width="1.0"/>
<text x="170.70" y="573.30" font-size="7.3" text-anchor="end" fill="#000" stroke="#000" stroke-width="0.08" textLength="4.45" lengthAdjust="spacingAndGlyphs">0</text>
<line x1="196.85" y1="570.70" x2="196.85" y2="573.90" stroke="#222" stroke-width="1.0"/>
<line x1="227.90" y1="570.70" x2="227.90" y2="573.90" stroke="#222" stroke-width="1.0"/>
<text x="195.85" y="581.90" font-size="7.1" text-anchor="middle" font-weight="normal" fill="#000" stroke="#000" stroke-width="0.14" textLength="24.2" lengthAdjust="spacingAndGlyphs">Healthy</text>
<text x="229.90" y="581.90" font-size="7.1" text-anchor="middle" font-weight="normal" fill="#000" stroke="#000" stroke-width="0.14" textLength="35.2" lengthAdjust="spacingAndGlyphs">COVID-19</text>
<line x1="196.00" y1="483.50" x2="228.50" y2="483.50" stroke="#222" stroke-width="1.15"/>
<circle cx="210.75" cy="479.50" r="0.95" fill="#111"/>
<circle cx="213.75" cy="479.50" r="0.95" fill="#111"/>
<text x="0" y="0" font-size="9" text-anchor="middle" fill="#000" stroke="#000" stroke-width="0.3" textLength="59.6" lengthAdjust="spacingAndGlyphs" transform="translate(151.60,517.20) rotate(-90)">Interleukin-6 (pg/ml)</text>
<rect x="316.00" y="566.00" width="20.90" height="4.70" fill="#84a3c2"/>
<rect x="316.30" y="566.30" width="20.30" height="4.40" fill="none" stroke="#7093b8" stroke-width="0.6"/>
<rect x="347.10" y="526.00" width="21.00" height="44.70" fill="#e0889a"/>
<rect x="347.40" y="526.30" width="20.40" height="44.40" fill="none" stroke="#d8788d" stroke-width="0.6"/>
<line x1="326.45" y1="566.00" x2="326.45" y2="564.50" stroke="#333" stroke-width="1.0"/>
<line x1="321.95" y1="564.50" x2="330.95" y2="564.50" stroke="#333" stroke-width="1.1"/>
<line x1="357.60" y1="526.00" x2="357.60" y2="517.20" stroke="#333" stroke-width="1.0"/>
<line x1="352.60" y1="517.20" x2="362.60" y2="517.20" stroke="#333" stroke-width="1.1"/>
<circle cx="322.70" cy="565.90" r="1.5" fill="#0b4a8b"/>
<circle cx="325.00" cy="564.70" r="1.5" fill="#0b4a8b"/>
<circle cx="327.00" cy="565.10" r="1.5" fill="#0b4a8b"/>
<circle cx="329.00" cy="564.20" r="1.5" fill="#0b4a8b"/>
<circle cx="357.30" cy="494.50" r="1.5" fill="#cc0a30"/>
<circle cx="357.30" cy="513.80" r="1.5" fill="#cc0a30"/>
<circle cx="357.30" cy="517.50" r="1.5" fill="#cc0a30"/>
<circle cx="357.30" cy="534.20" r="1.5" fill="#cc0a30"/>
<circle cx="357.30" cy="543.00" r="1.5" fill="#cc0a30"/>
<circle cx="357.30" cy="555.70" r="1.5" fill="#cc0a30"/>
<line x1="305.00" y1="463.00" x2="305.00" y2="571.30" stroke="#000" stroke-width="1.4"/>
<line x1="302.00" y1="570.70" x2="378.40" y2="570.70" stroke="#000" stroke-width="1.4"/>
<line x1="302.00" y1="467.30" x2="305.00" y2="467.30" stroke="#000" stroke-width="1.0"/>
<text x="299.70" y="469.90" font-size="7.3" text-anchor="end" fill="#000" stroke="#000" stroke-width="0.08" textLength="8.90" lengthAdjust="spacingAndGlyphs">80</text>
<line x1="302.00" y1="493.15" x2="305.00" y2="493.15" stroke="#000" stroke-width="1.0"/>
<text x="299.70" y="495.75" font-size="7.3" text-anchor="end" fill="#000" stroke="#000" stroke-width="0.08" textLength="8.90" lengthAdjust="spacingAndGlyphs">60</text>
<line x1="302.00" y1="519.00" x2="305.00" y2="519.00" stroke="#000" stroke-width="1.0"/>
<text x="299.70" y="521.60" font-size="7.3" text-anchor="end" fill="#000" stroke="#000" stroke-width="0.08" textLength="8.90" lengthAdjust="spacingAndGlyphs">40</text>
<line x1="302.00" y1="544.85" x2="305.00" y2="544.85" stroke="#000" stroke-width="1.0"/>
<text x="299.70" y="547.45" font-size="7.3" text-anchor="end" fill="#000" stroke="#000" stroke-width="0.08" textLength="8.90" lengthAdjust="spacingAndGlyphs">20</text>
<line x1="302.00" y1="570.70" x2="305.00" y2="570.70" stroke="#000" stroke-width="1.0"/>
<text x="299.70" y="573.30" font-size="7.3" text-anchor="end" fill="#000" stroke="#000" stroke-width="0.08" textLength="4.45" lengthAdjust="spacingAndGlyphs">0</text>
<line x1="326.45" y1="570.70" x2="326.45" y2="573.90" stroke="#222" stroke-width="1.0"/>
<line x1="357.60" y1="570.70" x2="357.60" y2="573.90" stroke="#222" stroke-width="1.0"/>
<text x="325.45" y="581.90" font-size="7.1" text-anchor="middle" font-weight="normal" fill="#000" stroke="#000" stroke-width="0.14" textLength="24.2" lengthAdjust="spacingAndGlyphs">Healthy</text>
<text x="359.60" y="581.90" font-size="7.1" text-anchor="middle" font-weight="normal" fill="#000" stroke="#000" stroke-width="0.14" textLength="35.2" lengthAdjust="spacingAndGlyphs">COVID-19</text>
<line x1="323.10" y1="488.00" x2="355.80" y2="488.00" stroke="#222" stroke-width="1.15"/>
<circle cx="337.80" cy="483.80" r="0.95" fill="#111"/>
<circle cx="340.80" cy="483.80" r="0.95" fill="#111"/>
<text x="0" y="0" font-size="9" text-anchor="middle" fill="#000" stroke="#000" stroke-width="0.3" textLength="59.6" lengthAdjust="spacingAndGlyphs" transform="translate(284.80,517.20) rotate(-90)">Interleukin-8 (pg/ml)</text>
<text x="6.8" y="14.6" font-size="10" font-weight="bold" fill="#000" stroke="#000" stroke-width="0.45">A</text>
<text x="140.8" y="14.6" font-size="10" font-weight="bold" fill="#000" stroke="#000" stroke-width="0.45">B</text>
<text x="406.8" y="14.6" font-size="10" font-weight="bold" fill="#000" stroke="#000" stroke-width="0.45">C</text>
<text x="6.8" y="163.2" font-size="10" font-weight="bold" fill="#000" stroke="#000" stroke-width="0.45">D</text>
<text x="140.2" y="312.2" font-size="10" font-weight="bold" fill="#000" stroke="#000" stroke-width="0.45">E</text>
<text x="272.8" y="312.2" font-size="10" font-weight="bold" fill="#000" stroke="#000" stroke-width="0.45">F</text>
<text x="6.8" y="464.2" font-size="10" font-weight="bold" fill="#000" stroke="#000" stroke-width="0.45">G</text>
<rect x="0.5" y="0.5" width="519" height="588" fill="none" stroke="#000" stroke-width="1"/>
</svg>
</body></html>
